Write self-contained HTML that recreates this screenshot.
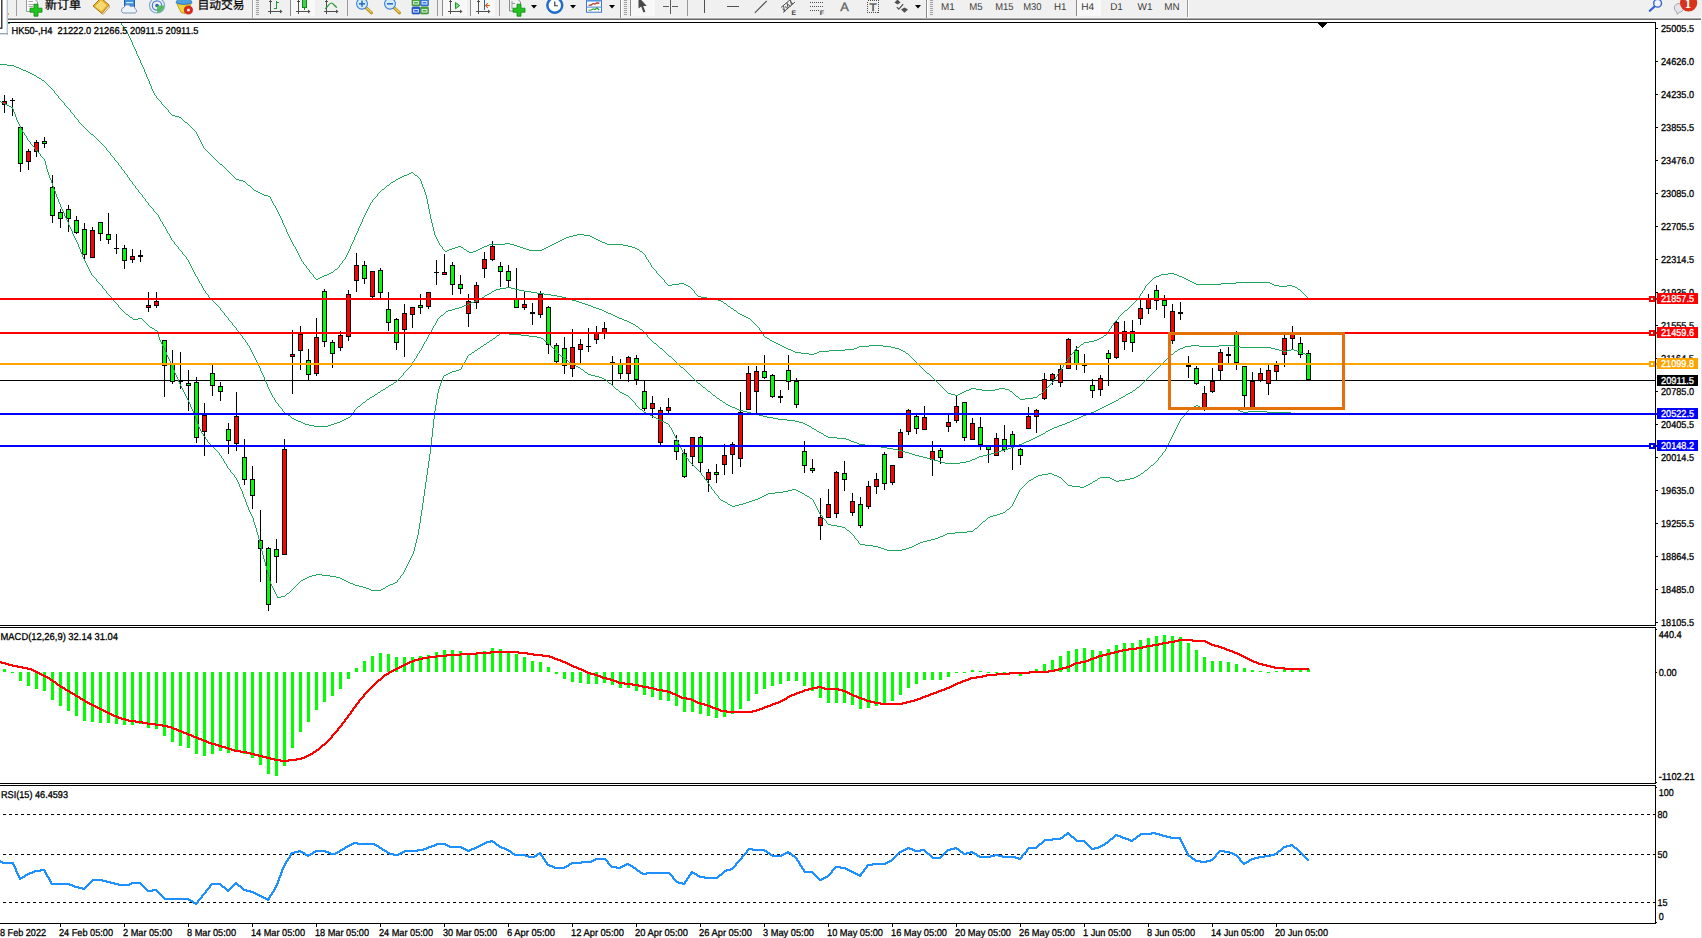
<!DOCTYPE html>
<html lang="zh"><head><meta charset="utf-8"><title>HK50-,H4</title>
<style>html,body{margin:0;padding:0;background:#fff;overflow:hidden}svg{display:block}</style>
</head><body>
<svg width="1702" height="938" viewBox="0 0 1702 938" font-family="Liberation Sans, sans-serif" font-size="10" text-rendering="geometricPrecision">
<rect x="0" y="0" width="1702" height="938" fill="#fff"/>
<g shape-rendering="crispEdges">
<rect x="0" y="380" width="1656" height="1" fill="#000"/>
<rect x="4" y="95" width="1" height="18" fill="#000"/>
<rect x="2" y="101" width="5" height="4" fill="#000"/>
<rect x="3" y="102" width="3" height="2" fill="#ff0000"/>
<rect x="12" y="98" width="1" height="18" fill="#000"/>
<rect x="10" y="100" width="5" height="1" fill="#000"/>
<rect x="20" y="127" width="1" height="45" fill="#000"/>
<rect x="18" y="127" width="5" height="37" fill="#000"/>
<rect x="19" y="128" width="3" height="35" fill="#00ff00"/>
<rect x="28" y="149" width="1" height="21" fill="#000"/>
<rect x="26" y="151" width="5" height="11" fill="#000"/>
<rect x="27" y="152" width="3" height="9" fill="#ff0000"/>
<rect x="36" y="140" width="1" height="17" fill="#000"/>
<rect x="34" y="142" width="5" height="10" fill="#000"/>
<rect x="35" y="143" width="3" height="8" fill="#ff0000"/>
<rect x="44" y="137" width="1" height="11" fill="#000"/>
<rect x="42" y="141" width="5" height="3" fill="#000"/>
<rect x="43" y="142" width="3" height="1" fill="#00ff00"/>
<rect x="52" y="175" width="1" height="48" fill="#000"/>
<rect x="50" y="187" width="5" height="29" fill="#000"/>
<rect x="51" y="188" width="3" height="27" fill="#00ff00"/>
<rect x="60" y="209" width="1" height="19" fill="#000"/>
<rect x="58" y="212" width="5" height="7" fill="#000"/>
<rect x="59" y="213" width="3" height="5" fill="#00ff00"/>
<rect x="68" y="205" width="1" height="27" fill="#000"/>
<rect x="66" y="209" width="5" height="10" fill="#000"/>
<rect x="67" y="210" width="3" height="8" fill="#00ff00"/>
<rect x="76" y="216" width="1" height="18" fill="#000"/>
<rect x="74" y="220" width="5" height="13" fill="#000"/>
<rect x="75" y="221" width="3" height="11" fill="#00ff00"/>
<rect x="84" y="223" width="1" height="36" fill="#000"/>
<rect x="82" y="229" width="5" height="26" fill="#000"/>
<rect x="83" y="230" width="3" height="24" fill="#00ff00"/>
<rect x="92" y="227" width="1" height="31" fill="#000"/>
<rect x="90" y="230" width="5" height="28" fill="#000"/>
<rect x="91" y="231" width="3" height="26" fill="#ff0000"/>
<rect x="100" y="222" width="1" height="19" fill="#000"/>
<rect x="98" y="222" width="5" height="12" fill="#000"/>
<rect x="99" y="223" width="3" height="10" fill="#00ff00"/>
<rect x="108" y="213" width="1" height="31" fill="#000"/>
<rect x="106" y="234" width="5" height="6" fill="#000"/>
<rect x="107" y="235" width="3" height="4" fill="#00ff00"/>
<rect x="116" y="234" width="1" height="20" fill="#000"/>
<rect x="114" y="248" width="5" height="1" fill="#000"/>
<rect x="124" y="245" width="1" height="24" fill="#000"/>
<rect x="122" y="248" width="5" height="13" fill="#000"/>
<rect x="123" y="249" width="3" height="11" fill="#00ff00"/>
<rect x="132" y="249" width="1" height="14" fill="#000"/>
<rect x="130" y="256" width="5" height="4" fill="#000"/>
<rect x="131" y="257" width="3" height="2" fill="#ff0000"/>
<rect x="140" y="250" width="1" height="12" fill="#000"/>
<rect x="138" y="255" width="5" height="2" fill="#000"/>
<rect x="148" y="292" width="1" height="20" fill="#000"/>
<rect x="146" y="305" width="5" height="3" fill="#000"/>
<rect x="147" y="306" width="3" height="1" fill="#ff0000"/>
<rect x="156" y="292" width="1" height="16" fill="#000"/>
<rect x="154" y="301" width="5" height="5" fill="#000"/>
<rect x="155" y="302" width="3" height="3" fill="#ff0000"/>
<rect x="164" y="340" width="1" height="57" fill="#000"/>
<rect x="162" y="340" width="5" height="26" fill="#000"/>
<rect x="163" y="341" width="3" height="24" fill="#00ff00"/>
<rect x="172" y="350" width="1" height="34" fill="#000"/>
<rect x="170" y="363" width="5" height="19" fill="#000"/>
<rect x="171" y="364" width="3" height="17" fill="#00ff00"/>
<rect x="180" y="352" width="1" height="37" fill="#000"/>
<rect x="178" y="381" width="5" height="1" fill="#000"/>
<rect x="188" y="370" width="1" height="41" fill="#000"/>
<rect x="186" y="383" width="5" height="3" fill="#000"/>
<rect x="187" y="384" width="3" height="1" fill="#00ff00"/>
<rect x="196" y="377" width="1" height="66" fill="#000"/>
<rect x="194" y="382" width="5" height="56" fill="#000"/>
<rect x="195" y="383" width="3" height="54" fill="#00ff00"/>
<rect x="204" y="403" width="1" height="53" fill="#000"/>
<rect x="202" y="415" width="5" height="17" fill="#000"/>
<rect x="203" y="416" width="3" height="15" fill="#ff0000"/>
<rect x="212" y="365" width="1" height="31" fill="#000"/>
<rect x="210" y="373" width="5" height="13" fill="#000"/>
<rect x="211" y="374" width="3" height="11" fill="#00ff00"/>
<rect x="220" y="382" width="1" height="19" fill="#000"/>
<rect x="218" y="386" width="5" height="6" fill="#000"/>
<rect x="219" y="387" width="3" height="4" fill="#00ff00"/>
<rect x="228" y="423" width="1" height="31" fill="#000"/>
<rect x="226" y="429" width="5" height="12" fill="#000"/>
<rect x="227" y="430" width="3" height="10" fill="#00ff00"/>
<rect x="236" y="392" width="1" height="59" fill="#000"/>
<rect x="234" y="416" width="5" height="28" fill="#000"/>
<rect x="235" y="417" width="3" height="26" fill="#ff0000"/>
<rect x="244" y="439" width="1" height="46" fill="#000"/>
<rect x="242" y="457" width="5" height="23" fill="#000"/>
<rect x="243" y="458" width="3" height="21" fill="#00ff00"/>
<rect x="252" y="466" width="1" height="43" fill="#000"/>
<rect x="250" y="479" width="5" height="17" fill="#000"/>
<rect x="251" y="480" width="3" height="15" fill="#00ff00"/>
<rect x="260" y="510" width="1" height="72" fill="#000"/>
<rect x="258" y="540" width="5" height="9" fill="#000"/>
<rect x="259" y="541" width="3" height="7" fill="#00ff00"/>
<rect x="268" y="547" width="1" height="64" fill="#000"/>
<rect x="266" y="548" width="5" height="57" fill="#000"/>
<rect x="267" y="549" width="3" height="55" fill="#00ff00"/>
<rect x="276" y="539" width="1" height="44" fill="#000"/>
<rect x="274" y="549" width="5" height="8" fill="#000"/>
<rect x="275" y="550" width="3" height="6" fill="#00ff00"/>
<rect x="284" y="439" width="1" height="116" fill="#000"/>
<rect x="282" y="449" width="5" height="106" fill="#000"/>
<rect x="283" y="450" width="3" height="104" fill="#ff0000"/>
<rect x="292" y="330" width="1" height="64" fill="#000"/>
<rect x="290" y="354" width="5" height="3" fill="#000"/>
<rect x="291" y="355" width="3" height="1" fill="#ff0000"/>
<rect x="300" y="326" width="1" height="44" fill="#000"/>
<rect x="298" y="334" width="5" height="17" fill="#000"/>
<rect x="299" y="335" width="3" height="15" fill="#ff0000"/>
<rect x="308" y="349" width="1" height="31" fill="#000"/>
<rect x="306" y="360" width="5" height="15" fill="#000"/>
<rect x="307" y="361" width="3" height="13" fill="#00ff00"/>
<rect x="316" y="318" width="1" height="58" fill="#000"/>
<rect x="314" y="337" width="5" height="37" fill="#000"/>
<rect x="315" y="338" width="3" height="35" fill="#ff0000"/>
<rect x="324" y="289" width="1" height="58" fill="#000"/>
<rect x="322" y="291" width="5" height="51" fill="#000"/>
<rect x="323" y="292" width="3" height="49" fill="#00ff00"/>
<rect x="332" y="340" width="1" height="28" fill="#000"/>
<rect x="330" y="342" width="5" height="12" fill="#000"/>
<rect x="331" y="343" width="3" height="10" fill="#00ff00"/>
<rect x="340" y="331" width="1" height="20" fill="#000"/>
<rect x="338" y="335" width="5" height="13" fill="#000"/>
<rect x="339" y="336" width="3" height="11" fill="#ff0000"/>
<rect x="348" y="290" width="1" height="51" fill="#000"/>
<rect x="346" y="294" width="5" height="43" fill="#000"/>
<rect x="347" y="295" width="3" height="41" fill="#ff0000"/>
<rect x="356" y="253" width="1" height="39" fill="#000"/>
<rect x="354" y="265" width="5" height="16" fill="#000"/>
<rect x="355" y="266" width="3" height="14" fill="#ff0000"/>
<rect x="364" y="261" width="1" height="23" fill="#000"/>
<rect x="362" y="265" width="5" height="14" fill="#000"/>
<rect x="363" y="266" width="3" height="12" fill="#00ff00"/>
<rect x="372" y="271" width="1" height="27" fill="#000"/>
<rect x="370" y="271" width="5" height="26" fill="#000"/>
<rect x="371" y="272" width="3" height="24" fill="#ff0000"/>
<rect x="380" y="268" width="1" height="30" fill="#000"/>
<rect x="378" y="270" width="5" height="23" fill="#000"/>
<rect x="379" y="271" width="3" height="21" fill="#00ff00"/>
<rect x="388" y="292" width="1" height="39" fill="#000"/>
<rect x="386" y="309" width="5" height="14" fill="#000"/>
<rect x="387" y="310" width="3" height="12" fill="#00ff00"/>
<rect x="396" y="318" width="1" height="32" fill="#000"/>
<rect x="394" y="319" width="5" height="24" fill="#000"/>
<rect x="395" y="320" width="3" height="22" fill="#00ff00"/>
<rect x="404" y="304" width="1" height="53" fill="#000"/>
<rect x="402" y="313" width="5" height="17" fill="#000"/>
<rect x="403" y="314" width="3" height="15" fill="#ff0000"/>
<rect x="412" y="307" width="1" height="21" fill="#000"/>
<rect x="410" y="307" width="5" height="8" fill="#000"/>
<rect x="411" y="308" width="3" height="6" fill="#ff0000"/>
<rect x="420" y="294" width="1" height="20" fill="#000"/>
<rect x="418" y="305" width="5" height="3" fill="#000"/>
<rect x="419" y="306" width="3" height="1" fill="#00ff00"/>
<rect x="428" y="292" width="1" height="17" fill="#000"/>
<rect x="426" y="292" width="5" height="15" fill="#000"/>
<rect x="427" y="293" width="3" height="13" fill="#ff0000"/>
<rect x="436" y="260" width="1" height="25" fill="#000"/>
<rect x="434" y="272" width="5" height="1" fill="#000"/>
<rect x="444" y="254" width="1" height="21" fill="#000"/>
<rect x="442" y="272" width="5" height="3" fill="#000"/>
<rect x="443" y="273" width="3" height="1" fill="#ff0000"/>
<rect x="452" y="262" width="1" height="33" fill="#000"/>
<rect x="450" y="265" width="5" height="20" fill="#000"/>
<rect x="451" y="266" width="3" height="18" fill="#00ff00"/>
<rect x="460" y="275" width="1" height="19" fill="#000"/>
<rect x="458" y="284" width="5" height="5" fill="#000"/>
<rect x="459" y="285" width="3" height="3" fill="#00ff00"/>
<rect x="468" y="294" width="1" height="33" fill="#000"/>
<rect x="466" y="301" width="5" height="13" fill="#000"/>
<rect x="467" y="302" width="3" height="11" fill="#ff0000"/>
<rect x="476" y="282" width="1" height="27" fill="#000"/>
<rect x="474" y="285" width="5" height="18" fill="#000"/>
<rect x="475" y="286" width="3" height="16" fill="#ff0000"/>
<rect x="484" y="252" width="1" height="26" fill="#000"/>
<rect x="482" y="259" width="5" height="10" fill="#000"/>
<rect x="483" y="260" width="3" height="8" fill="#ff0000"/>
<rect x="492" y="241" width="1" height="20" fill="#000"/>
<rect x="490" y="246" width="5" height="14" fill="#000"/>
<rect x="491" y="247" width="3" height="12" fill="#ff0000"/>
<rect x="500" y="262" width="1" height="25" fill="#000"/>
<rect x="498" y="266" width="5" height="6" fill="#000"/>
<rect x="499" y="267" width="3" height="4" fill="#00ff00"/>
<rect x="508" y="265" width="1" height="22" fill="#000"/>
<rect x="506" y="271" width="5" height="10" fill="#000"/>
<rect x="507" y="272" width="3" height="8" fill="#00ff00"/>
<rect x="516" y="268" width="1" height="40" fill="#000"/>
<rect x="514" y="299" width="5" height="9" fill="#000"/>
<rect x="515" y="300" width="3" height="7" fill="#00ff00"/>
<rect x="524" y="292" width="1" height="18" fill="#000"/>
<rect x="522" y="304" width="5" height="4" fill="#000"/>
<rect x="523" y="305" width="3" height="2" fill="#ff0000"/>
<rect x="532" y="303" width="1" height="22" fill="#000"/>
<rect x="530" y="312" width="5" height="2" fill="#000"/>
<rect x="540" y="291" width="1" height="27" fill="#000"/>
<rect x="538" y="294" width="5" height="21" fill="#000"/>
<rect x="539" y="295" width="3" height="19" fill="#ff0000"/>
<rect x="548" y="306" width="1" height="48" fill="#000"/>
<rect x="546" y="307" width="5" height="38" fill="#000"/>
<rect x="547" y="308" width="3" height="36" fill="#00ff00"/>
<rect x="556" y="343" width="1" height="20" fill="#000"/>
<rect x="554" y="345" width="5" height="17" fill="#000"/>
<rect x="555" y="346" width="3" height="15" fill="#00ff00"/>
<rect x="564" y="337" width="1" height="37" fill="#000"/>
<rect x="562" y="348" width="5" height="18" fill="#000"/>
<rect x="563" y="349" width="3" height="16" fill="#00ff00"/>
<rect x="572" y="329" width="1" height="48" fill="#000"/>
<rect x="570" y="347" width="5" height="22" fill="#000"/>
<rect x="571" y="348" width="3" height="20" fill="#ff0000"/>
<rect x="580" y="339" width="1" height="24" fill="#000"/>
<rect x="578" y="344" width="5" height="6" fill="#000"/>
<rect x="579" y="345" width="3" height="4" fill="#ff0000"/>
<rect x="588" y="328" width="1" height="24" fill="#000"/>
<rect x="586" y="346" width="5" height="1" fill="#000"/>
<rect x="596" y="326" width="1" height="18" fill="#000"/>
<rect x="594" y="333" width="5" height="7" fill="#000"/>
<rect x="595" y="334" width="3" height="5" fill="#ff0000"/>
<rect x="604" y="322" width="1" height="17" fill="#000"/>
<rect x="602" y="328" width="5" height="6" fill="#000"/>
<rect x="603" y="329" width="3" height="4" fill="#ff0000"/>
<rect x="612" y="356" width="1" height="30" fill="#000"/>
<rect x="610" y="362" width="5" height="1" fill="#000"/>
<rect x="620" y="359" width="1" height="20" fill="#000"/>
<rect x="618" y="364" width="5" height="10" fill="#000"/>
<rect x="619" y="365" width="3" height="8" fill="#00ff00"/>
<rect x="628" y="356" width="1" height="26" fill="#000"/>
<rect x="626" y="357" width="5" height="17" fill="#000"/>
<rect x="627" y="358" width="3" height="15" fill="#ff0000"/>
<rect x="636" y="355" width="1" height="30" fill="#000"/>
<rect x="634" y="358" width="5" height="22" fill="#000"/>
<rect x="635" y="359" width="3" height="20" fill="#00ff00"/>
<rect x="644" y="381" width="1" height="30" fill="#000"/>
<rect x="642" y="391" width="5" height="18" fill="#000"/>
<rect x="643" y="392" width="3" height="16" fill="#00ff00"/>
<rect x="652" y="396" width="1" height="22" fill="#000"/>
<rect x="650" y="403" width="5" height="6" fill="#000"/>
<rect x="651" y="404" width="3" height="4" fill="#ff0000"/>
<rect x="660" y="407" width="1" height="38" fill="#000"/>
<rect x="658" y="410" width="5" height="33" fill="#000"/>
<rect x="659" y="411" width="3" height="31" fill="#ff0000"/>
<rect x="668" y="398" width="1" height="15" fill="#000"/>
<rect x="666" y="407" width="5" height="4" fill="#000"/>
<rect x="667" y="408" width="3" height="2" fill="#ff0000"/>
<rect x="676" y="435" width="1" height="25" fill="#000"/>
<rect x="674" y="440" width="5" height="12" fill="#000"/>
<rect x="675" y="441" width="3" height="10" fill="#00ff00"/>
<rect x="684" y="449" width="1" height="29" fill="#000"/>
<rect x="682" y="453" width="5" height="24" fill="#000"/>
<rect x="683" y="454" width="3" height="22" fill="#00ff00"/>
<rect x="692" y="437" width="1" height="29" fill="#000"/>
<rect x="690" y="437" width="5" height="20" fill="#000"/>
<rect x="691" y="438" width="3" height="18" fill="#ff0000"/>
<rect x="700" y="436" width="1" height="36" fill="#000"/>
<rect x="698" y="437" width="5" height="26" fill="#000"/>
<rect x="699" y="438" width="3" height="24" fill="#00ff00"/>
<rect x="708" y="469" width="1" height="23" fill="#000"/>
<rect x="706" y="472" width="5" height="8" fill="#000"/>
<rect x="707" y="473" width="3" height="6" fill="#ff0000"/>
<rect x="716" y="464" width="1" height="19" fill="#000"/>
<rect x="714" y="472" width="5" height="3" fill="#000"/>
<rect x="715" y="473" width="3" height="1" fill="#00ff00"/>
<rect x="724" y="444" width="1" height="31" fill="#000"/>
<rect x="722" y="455" width="5" height="10" fill="#000"/>
<rect x="723" y="456" width="3" height="8" fill="#ff0000"/>
<rect x="732" y="442" width="1" height="32" fill="#000"/>
<rect x="730" y="444" width="5" height="11" fill="#000"/>
<rect x="731" y="445" width="3" height="9" fill="#ff0000"/>
<rect x="740" y="392" width="1" height="75" fill="#000"/>
<rect x="738" y="412" width="5" height="47" fill="#000"/>
<rect x="739" y="413" width="3" height="45" fill="#ff0000"/>
<rect x="748" y="366" width="1" height="44" fill="#000"/>
<rect x="746" y="373" width="5" height="37" fill="#000"/>
<rect x="747" y="374" width="3" height="35" fill="#ff0000"/>
<rect x="756" y="366" width="1" height="47" fill="#000"/>
<rect x="754" y="371" width="5" height="21" fill="#000"/>
<rect x="755" y="372" width="3" height="19" fill="#ff0000"/>
<rect x="764" y="355" width="1" height="24" fill="#000"/>
<rect x="762" y="371" width="5" height="7" fill="#000"/>
<rect x="763" y="372" width="3" height="5" fill="#00ff00"/>
<rect x="772" y="374" width="1" height="24" fill="#000"/>
<rect x="770" y="375" width="5" height="22" fill="#000"/>
<rect x="771" y="376" width="3" height="20" fill="#00ff00"/>
<rect x="780" y="390" width="1" height="13" fill="#000"/>
<rect x="778" y="396" width="5" height="2" fill="#000"/>
<rect x="788" y="355" width="1" height="35" fill="#000"/>
<rect x="786" y="370" width="5" height="12" fill="#000"/>
<rect x="787" y="371" width="3" height="10" fill="#00ff00"/>
<rect x="796" y="378" width="1" height="30" fill="#000"/>
<rect x="794" y="381" width="5" height="24" fill="#000"/>
<rect x="795" y="382" width="3" height="22" fill="#00ff00"/>
<rect x="804" y="441" width="1" height="32" fill="#000"/>
<rect x="802" y="451" width="5" height="15" fill="#000"/>
<rect x="803" y="452" width="3" height="13" fill="#00ff00"/>
<rect x="812" y="459" width="1" height="14" fill="#000"/>
<rect x="810" y="468" width="5" height="3" fill="#000"/>
<rect x="811" y="469" width="3" height="1" fill="#00ff00"/>
<rect x="820" y="498" width="1" height="42" fill="#000"/>
<rect x="818" y="517" width="5" height="9" fill="#000"/>
<rect x="819" y="518" width="3" height="7" fill="#ff0000"/>
<rect x="828" y="489" width="1" height="29" fill="#000"/>
<rect x="826" y="504" width="5" height="14" fill="#000"/>
<rect x="827" y="505" width="3" height="12" fill="#ff0000"/>
<rect x="836" y="471" width="1" height="47" fill="#000"/>
<rect x="834" y="472" width="5" height="42" fill="#000"/>
<rect x="835" y="473" width="3" height="40" fill="#ff0000"/>
<rect x="844" y="461" width="1" height="30" fill="#000"/>
<rect x="842" y="473" width="5" height="7" fill="#000"/>
<rect x="843" y="474" width="3" height="5" fill="#00ff00"/>
<rect x="852" y="493" width="1" height="23" fill="#000"/>
<rect x="850" y="501" width="5" height="12" fill="#000"/>
<rect x="851" y="502" width="3" height="10" fill="#ff0000"/>
<rect x="860" y="497" width="1" height="31" fill="#000"/>
<rect x="858" y="504" width="5" height="22" fill="#000"/>
<rect x="859" y="505" width="3" height="20" fill="#00ff00"/>
<rect x="868" y="481" width="1" height="28" fill="#000"/>
<rect x="866" y="486" width="5" height="21" fill="#000"/>
<rect x="867" y="487" width="3" height="19" fill="#ff0000"/>
<rect x="876" y="473" width="1" height="21" fill="#000"/>
<rect x="874" y="479" width="5" height="8" fill="#000"/>
<rect x="875" y="480" width="3" height="6" fill="#ff0000"/>
<rect x="884" y="452" width="1" height="38" fill="#000"/>
<rect x="882" y="454" width="5" height="30" fill="#000"/>
<rect x="883" y="455" width="3" height="28" fill="#00ff00"/>
<rect x="892" y="465" width="1" height="20" fill="#000"/>
<rect x="890" y="465" width="5" height="18" fill="#000"/>
<rect x="891" y="466" width="3" height="16" fill="#ff0000"/>
<rect x="900" y="429" width="1" height="29" fill="#000"/>
<rect x="898" y="432" width="5" height="26" fill="#000"/>
<rect x="899" y="433" width="3" height="24" fill="#ff0000"/>
<rect x="908" y="409" width="1" height="26" fill="#000"/>
<rect x="906" y="410" width="5" height="22" fill="#000"/>
<rect x="907" y="411" width="3" height="20" fill="#ff0000"/>
<rect x="916" y="415" width="1" height="19" fill="#000"/>
<rect x="914" y="416" width="5" height="13" fill="#000"/>
<rect x="915" y="417" width="3" height="11" fill="#00ff00"/>
<rect x="924" y="406" width="1" height="24" fill="#000"/>
<rect x="922" y="417" width="5" height="13" fill="#000"/>
<rect x="923" y="418" width="3" height="11" fill="#ff0000"/>
<rect x="932" y="441" width="1" height="35" fill="#000"/>
<rect x="930" y="451" width="5" height="9" fill="#000"/>
<rect x="931" y="452" width="3" height="7" fill="#ff0000"/>
<rect x="940" y="448" width="1" height="16" fill="#000"/>
<rect x="938" y="450" width="5" height="8" fill="#000"/>
<rect x="939" y="451" width="3" height="6" fill="#00ff00"/>
<rect x="948" y="415" width="1" height="17" fill="#000"/>
<rect x="946" y="422" width="5" height="5" fill="#000"/>
<rect x="947" y="423" width="3" height="3" fill="#ff0000"/>
<rect x="956" y="396" width="1" height="27" fill="#000"/>
<rect x="954" y="406" width="5" height="15" fill="#000"/>
<rect x="955" y="407" width="3" height="13" fill="#ff0000"/>
<rect x="964" y="402" width="1" height="39" fill="#000"/>
<rect x="962" y="402" width="5" height="36" fill="#000"/>
<rect x="963" y="403" width="3" height="34" fill="#00ff00"/>
<rect x="972" y="418" width="1" height="22" fill="#000"/>
<rect x="970" y="423" width="5" height="17" fill="#000"/>
<rect x="971" y="424" width="3" height="15" fill="#ff0000"/>
<rect x="980" y="417" width="1" height="33" fill="#000"/>
<rect x="978" y="427" width="5" height="18" fill="#000"/>
<rect x="979" y="428" width="3" height="16" fill="#00ff00"/>
<rect x="988" y="446" width="1" height="17" fill="#000"/>
<rect x="986" y="446" width="5" height="4" fill="#000"/>
<rect x="987" y="447" width="3" height="2" fill="#00ff00"/>
<rect x="996" y="433" width="1" height="23" fill="#000"/>
<rect x="994" y="438" width="5" height="18" fill="#000"/>
<rect x="995" y="439" width="3" height="16" fill="#ff0000"/>
<rect x="1004" y="425" width="1" height="27" fill="#000"/>
<rect x="1002" y="439" width="5" height="11" fill="#000"/>
<rect x="1003" y="440" width="3" height="9" fill="#00ff00"/>
<rect x="1012" y="431" width="1" height="39" fill="#000"/>
<rect x="1010" y="434" width="5" height="12" fill="#000"/>
<rect x="1011" y="435" width="3" height="10" fill="#00ff00"/>
<rect x="1020" y="448" width="1" height="17" fill="#000"/>
<rect x="1018" y="449" width="5" height="7" fill="#000"/>
<rect x="1019" y="450" width="3" height="5" fill="#00ff00"/>
<rect x="1028" y="407" width="1" height="22" fill="#000"/>
<rect x="1026" y="416" width="5" height="13" fill="#000"/>
<rect x="1027" y="417" width="3" height="11" fill="#ff0000"/>
<rect x="1036" y="409" width="1" height="24" fill="#000"/>
<rect x="1034" y="410" width="5" height="7" fill="#000"/>
<rect x="1035" y="411" width="3" height="5" fill="#ff0000"/>
<rect x="1044" y="373" width="1" height="27" fill="#000"/>
<rect x="1042" y="379" width="5" height="20" fill="#000"/>
<rect x="1043" y="380" width="3" height="18" fill="#ff0000"/>
<rect x="1052" y="373" width="1" height="12" fill="#000"/>
<rect x="1050" y="374" width="5" height="6" fill="#000"/>
<rect x="1051" y="375" width="3" height="4" fill="#ff0000"/>
<rect x="1060" y="365" width="1" height="22" fill="#000"/>
<rect x="1058" y="369" width="5" height="14" fill="#000"/>
<rect x="1059" y="370" width="3" height="12" fill="#ff0000"/>
<rect x="1068" y="338" width="1" height="31" fill="#000"/>
<rect x="1066" y="339" width="5" height="30" fill="#000"/>
<rect x="1067" y="340" width="3" height="28" fill="#ff0000"/>
<rect x="1076" y="346" width="1" height="24" fill="#000"/>
<rect x="1074" y="350" width="5" height="14" fill="#000"/>
<rect x="1075" y="351" width="3" height="12" fill="#00ff00"/>
<rect x="1084" y="354" width="1" height="19" fill="#000"/>
<rect x="1082" y="365" width="5" height="1" fill="#000"/>
<rect x="1092" y="379" width="1" height="19" fill="#000"/>
<rect x="1090" y="385" width="5" height="6" fill="#000"/>
<rect x="1091" y="386" width="3" height="4" fill="#00ff00"/>
<rect x="1100" y="375" width="1" height="21" fill="#000"/>
<rect x="1098" y="378" width="5" height="12" fill="#000"/>
<rect x="1099" y="379" width="3" height="10" fill="#ff0000"/>
<rect x="1108" y="350" width="1" height="36" fill="#000"/>
<rect x="1106" y="353" width="5" height="6" fill="#000"/>
<rect x="1107" y="354" width="3" height="4" fill="#00ff00"/>
<rect x="1116" y="321" width="1" height="38" fill="#000"/>
<rect x="1114" y="322" width="5" height="36" fill="#000"/>
<rect x="1115" y="323" width="3" height="34" fill="#ff0000"/>
<rect x="1124" y="321" width="1" height="29" fill="#000"/>
<rect x="1122" y="331" width="5" height="11" fill="#000"/>
<rect x="1123" y="332" width="3" height="9" fill="#ff0000"/>
<rect x="1132" y="320" width="1" height="32" fill="#000"/>
<rect x="1130" y="331" width="5" height="12" fill="#000"/>
<rect x="1131" y="332" width="3" height="10" fill="#00ff00"/>
<rect x="1140" y="298" width="1" height="27" fill="#000"/>
<rect x="1138" y="308" width="5" height="11" fill="#000"/>
<rect x="1139" y="309" width="3" height="9" fill="#ff0000"/>
<rect x="1148" y="294" width="1" height="20" fill="#000"/>
<rect x="1146" y="299" width="5" height="10" fill="#000"/>
<rect x="1147" y="300" width="3" height="8" fill="#ff0000"/>
<rect x="1156" y="285" width="1" height="25" fill="#000"/>
<rect x="1154" y="290" width="5" height="11" fill="#000"/>
<rect x="1155" y="291" width="3" height="9" fill="#00ff00"/>
<rect x="1164" y="295" width="1" height="23" fill="#000"/>
<rect x="1162" y="300" width="5" height="6" fill="#000"/>
<rect x="1163" y="301" width="3" height="4" fill="#00ff00"/>
<rect x="1172" y="304" width="1" height="40" fill="#000"/>
<rect x="1170" y="311" width="5" height="30" fill="#000"/>
<rect x="1171" y="312" width="3" height="28" fill="#ff0000"/>
<rect x="1180" y="302" width="1" height="18" fill="#000"/>
<rect x="1178" y="312" width="5" height="2" fill="#000"/>
<rect x="1188" y="356" width="1" height="22" fill="#000"/>
<rect x="1186" y="365" width="5" height="2" fill="#000"/>
<rect x="1196" y="366" width="1" height="19" fill="#000"/>
<rect x="1194" y="368" width="5" height="16" fill="#000"/>
<rect x="1195" y="369" width="3" height="14" fill="#00ff00"/>
<rect x="1204" y="386" width="1" height="25" fill="#000"/>
<rect x="1202" y="393" width="5" height="15" fill="#000"/>
<rect x="1203" y="394" width="3" height="13" fill="#ff0000"/>
<rect x="1212" y="368" width="1" height="25" fill="#000"/>
<rect x="1210" y="381" width="5" height="11" fill="#000"/>
<rect x="1211" y="382" width="3" height="9" fill="#ff0000"/>
<rect x="1220" y="349" width="1" height="31" fill="#000"/>
<rect x="1218" y="352" width="5" height="19" fill="#000"/>
<rect x="1219" y="353" width="3" height="17" fill="#ff0000"/>
<rect x="1228" y="347" width="1" height="16" fill="#000"/>
<rect x="1226" y="354" width="5" height="2" fill="#000"/>
<rect x="1236" y="331" width="1" height="39" fill="#000"/>
<rect x="1234" y="333" width="5" height="30" fill="#000"/>
<rect x="1235" y="334" width="3" height="28" fill="#00ff00"/>
<rect x="1244" y="366" width="1" height="41" fill="#000"/>
<rect x="1242" y="366" width="5" height="30" fill="#000"/>
<rect x="1243" y="367" width="3" height="28" fill="#00ff00"/>
<rect x="1252" y="372" width="1" height="36" fill="#000"/>
<rect x="1250" y="381" width="5" height="27" fill="#000"/>
<rect x="1251" y="382" width="3" height="25" fill="#ff0000"/>
<rect x="1260" y="368" width="1" height="14" fill="#000"/>
<rect x="1258" y="373" width="5" height="8" fill="#000"/>
<rect x="1259" y="374" width="3" height="6" fill="#ff0000"/>
<rect x="1268" y="365" width="1" height="30" fill="#000"/>
<rect x="1266" y="370" width="5" height="14" fill="#000"/>
<rect x="1267" y="371" width="3" height="12" fill="#ff0000"/>
<rect x="1276" y="361" width="1" height="19" fill="#000"/>
<rect x="1274" y="365" width="5" height="7" fill="#000"/>
<rect x="1275" y="366" width="3" height="5" fill="#ff0000"/>
<rect x="1284" y="335" width="1" height="32" fill="#000"/>
<rect x="1282" y="338" width="5" height="17" fill="#000"/>
<rect x="1283" y="339" width="3" height="15" fill="#ff0000"/>
<rect x="1292" y="326" width="1" height="23" fill="#000"/>
<rect x="1290" y="333" width="5" height="6" fill="#000"/>
<rect x="1291" y="334" width="3" height="4" fill="#ff0000"/>
<rect x="1300" y="337" width="1" height="21" fill="#000"/>
<rect x="1298" y="343" width="5" height="12" fill="#000"/>
<rect x="1299" y="344" width="3" height="10" fill="#00ff00"/>
<rect x="1308" y="350" width="1" height="30" fill="#000"/>
<rect x="1306" y="353" width="5" height="27" fill="#000"/>
<rect x="1307" y="354" width="3" height="25" fill="#00ff00"/>
</g>
<path d="M0 64h7v1h-7zM0 101h1v1h-1zM1 102h2v1h-2zM3 103h2v1h-2zM5 104h2v1h-2zM7 65h7v1h-7zM7 105h2v1h-2zM9 106h2v1h-2zM11 107h2v1h-2zM12 108h1v1h-1zM13 109h1v3h-1zM14 66h2v1h-2zM14 112h1v2h-1zM15 114h1v3h-1zM16 67h3v1h-3zM16 117h1v3h-1zM17 120h1v2h-1zM18 122h1v2h-1zM19 68h2v1h-2zM19 124h1v2h-1zM20 126h1v2h-1zM21 69h2v1h-2zM21 128h1v2h-1zM22 130h1v2h-1zM23 70h3v1h-3zM23 132h1v1h-1zM24 133h1v2h-1zM25 135h1v1h-1zM26 71h2v1h-2zM26 136h1v2h-1zM27 138h1v2h-1zM28 72h2v1h-2zM28 140h1v1h-1zM29 141h1v1h-1zM30 73h2v1h-2zM30 142h1v2h-1zM31 144h1v1h-1zM32 74h2v1h-2zM32 145h1v1h-1zM33 146h1v1h-1zM34 75h2v1h-2zM34 147h1v2h-1zM35 149h1v1h-1zM36 76h1v1h-1zM36 150h1v1h-1zM37 77h2v1h-2zM37 151h1v1h-1zM38 152h1v1h-1zM39 78h2v1h-2zM39 153h1v1h-1zM40 154h1v2h-1zM41 79h1v1h-1zM41 156h1v1h-1zM42 80h2v1h-2zM42 157h1v1h-1zM43 158h1v1h-1zM44 81h1v1h-1zM44 159h1v2h-1zM45 82h1v1h-1zM45 161h1v4h-1zM46 83h1v1h-1zM46 165h1v4h-1zM47 84h1v1h-1zM47 169h1v3h-1zM48 85h1v1h-1zM48 172h1v3h-1zM49 86h1v1h-1zM49 175h1v3h-1zM50 87h1v1h-1zM50 178h1v2h-1zM51 88h1v1h-1zM51 180h1v3h-1zM52 89h1v1h-1zM52 183h1v3h-1zM53 90h1v1h-1zM53 186h1v3h-1zM54 91h1v2h-1zM54 189h1v2h-1zM55 93h1v1h-1zM55 191h1v3h-1zM56 94h1v1h-1zM56 194h1v3h-1zM57 95h1v1h-1zM57 197h1v2h-1zM58 96h1v2h-1zM58 199h1v3h-1zM59 98h1v1h-1zM59 202h1v2h-1zM60 99h1v1h-1zM60 204h1v3h-1zM61 100h1v1h-1zM61 207h1v2h-1zM62 101h1v1h-1zM62 209h1v2h-1zM63 102h1v1h-1zM63 211h1v2h-1zM64 103h1v2h-1zM64 213h1v3h-1zM65 105h1v1h-1zM65 216h1v2h-1zM66 106h1v1h-1zM66 218h1v2h-1zM67 107h1v1h-1zM67 220h1v2h-1zM68 108h1v1h-1zM68 222h1v3h-1zM69 109h1v1h-1zM69 225h1v2h-1zM70 110h1v2h-1zM70 227h1v2h-1zM71 112h1v1h-1zM71 229h1v2h-1zM72 113h1v1h-1zM72 231h1v3h-1zM73 114h1v1h-1zM73 234h1v2h-1zM74 115h1v2h-1zM74 236h1v2h-1zM75 117h1v1h-1zM75 238h1v2h-1zM76 118h1v1h-1zM76 240h1v2h-1zM77 119h1v1h-1zM77 242h1v2h-1zM78 120h1v2h-1zM78 244h1v3h-1zM79 122h1v1h-1zM79 247h1v2h-1zM80 123h1v1h-1zM80 249h1v3h-1zM81 124h1v1h-1zM81 252h1v2h-1zM82 125h1v1h-1zM82 254h1v3h-1zM83 126h1v1h-1zM83 257h1v2h-1zM84 127h1v1h-1zM84 259h1v2h-1zM85 128h1v1h-1zM85 261h1v2h-1zM86 129h1v1h-1zM86 263h1v2h-1zM87 130h1v1h-1zM87 265h1v2h-1zM88 131h1v1h-1zM88 267h1v2h-1zM89 132h1v1h-1zM89 269h1v2h-1zM90 133h1v1h-1zM90 271h1v2h-1zM91 134h2v1h-2zM91 273h1v2h-1zM92 275h1v1h-1zM93 135h1v1h-1zM93 276h1v1h-1zM94 136h1v1h-1zM94 277h1v1h-1zM95 137h1v1h-1zM95 278h1v1h-1zM96 138h1v1h-1zM96 279h1v2h-1zM97 139h1v1h-1zM97 281h1v1h-1zM98 140h1v1h-1zM98 282h1v1h-1zM99 141h1v1h-1zM99 283h1v1h-1zM100 142h1v1h-1zM100 284h1v1h-1zM101 143h1v1h-1zM101 285h1v1h-1zM102 144h1v1h-1zM102 286h1v2h-1zM103 145h1v1h-1zM103 288h1v1h-1zM104 146h1v1h-1zM104 289h1v1h-1zM105 147h1v1h-1zM105 290h1v1h-1zM106 148h1v2h-1zM106 291h1v2h-1zM107 150h1v1h-1zM107 293h1v1h-1zM108 151h1v1h-1zM108 294h1v1h-1zM109 152h1v1h-1zM109 295h1v1h-1zM110 153h1v2h-1zM110 296h1v1h-1zM111 155h1v1h-1zM111 297h1v1h-1zM112 156h1v1h-1zM112 298h1v2h-1zM113 157h1v1h-1zM113 300h1v1h-1zM114 158h1v2h-1zM114 301h1v1h-1zM115 160h1v1h-1zM115 302h1v1h-1zM116 161h1v1h-1zM116 303h1v1h-1zM117 162h1v1h-1zM117 304h1v1h-1zM118 163h1v2h-1zM118 305h1v2h-1zM119 165h1v1h-1zM119 307h1v1h-1zM120 166h1v1h-1zM120 308h1v1h-1zM121 23h1v2h-1zM121 167h1v2h-1zM121 309h1v1h-1zM122 25h1v1h-1zM122 169h1v1h-1zM122 310h1v1h-1zM123 26h1v2h-1zM123 170h1v1h-1zM123 311h1v1h-1zM124 28h1v1h-1zM124 171h1v2h-1zM124 312h1v1h-1zM125 29h1v2h-1zM125 173h1v1h-1zM125 313h1v1h-1zM126 31h1v1h-1zM126 174h1v1h-1zM126 314h2v1h-2zM127 32h1v2h-1zM127 175h1v2h-1zM128 34h1v2h-1zM128 177h1v1h-1zM128 315h1v1h-1zM129 36h1v2h-1zM129 178h1v2h-1zM129 316h1v1h-1zM130 38h1v2h-1zM130 180h1v1h-1zM130 317h2v1h-2zM131 40h1v2h-1zM131 181h1v1h-1zM132 42h1v3h-1zM132 182h1v2h-1zM132 318h1v1h-1zM133 45h1v2h-1zM133 184h1v1h-1zM133 319h5v1h-5zM134 47h1v2h-1zM134 185h1v1h-1zM135 49h1v2h-1zM135 186h1v2h-1zM136 51h1v3h-1zM136 188h1v1h-1zM137 54h1v2h-1zM137 189h1v1h-1zM138 56h1v2h-1zM138 190h1v2h-1zM138 318h4v1h-4zM139 58h1v2h-1zM139 192h1v1h-1zM140 60h1v3h-1zM140 193h1v1h-1zM141 63h1v2h-1zM141 194h1v1h-1zM142 65h1v2h-1zM142 195h1v2h-1zM142 319h1v1h-1zM143 67h1v2h-1zM143 197h1v1h-1zM143 320h1v1h-1zM144 69h1v3h-1zM144 198h1v1h-1zM144 321h1v1h-1zM145 72h1v2h-1zM145 199h1v2h-1zM145 322h1v1h-1zM146 74h1v3h-1zM146 201h1v1h-1zM146 323h1v1h-1zM147 77h1v2h-1zM147 202h1v1h-1zM147 324h1v1h-1zM148 79h1v2h-1zM148 203h1v2h-1zM148 325h1v1h-1zM149 81h1v3h-1zM149 205h1v1h-1zM149 326h1v1h-1zM150 84h1v2h-1zM150 206h1v1h-1zM150 327h2v1h-2zM151 86h1v3h-1zM151 207h1v1h-1zM152 89h1v2h-1zM152 208h1v1h-1zM152 328h2v1h-2zM153 91h1v2h-1zM153 209h1v2h-1zM154 93h1v2h-1zM154 211h1v1h-1zM154 329h1v1h-1zM155 95h1v1h-1zM155 212h1v1h-1zM155 330h2v1h-2zM156 96h1v2h-1zM156 213h1v1h-1zM157 98h1v1h-1zM157 214h1v1h-1zM157 331h1v2h-1zM158 99h1v1h-1zM158 215h1v2h-1zM158 333h1v4h-1zM159 100h1v1h-1zM159 217h1v2h-1zM159 337h1v3h-1zM160 101h1v1h-1zM160 219h1v2h-1zM160 340h1v2h-1zM161 102h1v2h-1zM161 221h1v1h-1zM161 342h1v2h-1zM162 104h1v1h-1zM162 222h1v2h-1zM162 344h1v2h-1zM163 105h1v1h-1zM163 224h1v2h-1zM163 346h1v2h-1zM164 106h1v1h-1zM164 226h1v1h-1zM164 348h1v2h-1zM165 107h1v1h-1zM165 227h1v2h-1zM165 350h1v2h-1zM166 108h1v1h-1zM166 229h1v2h-1zM166 352h1v3h-1zM167 109h1v1h-1zM167 231h1v2h-1zM167 355h1v2h-1zM168 110h1v2h-1zM168 233h1v1h-1zM168 357h1v2h-1zM169 112h1v1h-1zM169 234h1v2h-1zM169 359h1v2h-1zM170 113h1v1h-1zM170 236h1v2h-1zM170 361h1v3h-1zM171 114h1v1h-1zM171 238h1v2h-1zM171 364h1v2h-1zM172 115h3v1h-3zM172 240h1v1h-1zM172 366h1v2h-1zM173 241h1v1h-1zM173 368h1v2h-1zM174 242h1v2h-1zM174 370h1v3h-1zM175 116h4v1h-4zM175 244h1v1h-1zM175 373h1v2h-1zM176 245h1v1h-1zM176 375h1v2h-1zM177 246h1v1h-1zM177 377h1v2h-1zM178 247h1v2h-1zM178 379h1v3h-1zM179 117h2v1h-2zM179 249h1v1h-1zM179 382h1v2h-1zM180 250h1v1h-1zM180 384h1v2h-1zM181 118h1v1h-1zM181 251h1v1h-1zM181 386h1v2h-1zM182 119h1v1h-1zM182 252h1v2h-1zM182 388h1v2h-1zM183 120h1v1h-1zM183 254h1v1h-1zM183 390h1v2h-1zM184 121h1v1h-1zM184 255h1v1h-1zM184 392h1v2h-1zM185 122h2v1h-2zM185 256h1v1h-1zM185 394h1v2h-1zM186 257h1v2h-1zM186 396h1v2h-1zM187 123h1v1h-1zM187 259h1v1h-1zM187 398h1v2h-1zM188 124h1v1h-1zM188 260h1v2h-1zM188 400h1v2h-1zM189 125h1v1h-1zM189 262h1v2h-1zM189 402h1v2h-1zM190 126h1v1h-1zM190 264h1v2h-1zM190 404h1v3h-1zM191 127h1v1h-1zM191 266h1v2h-1zM191 407h1v2h-1zM192 128h1v1h-1zM192 268h1v2h-1zM192 409h1v2h-1zM193 129h1v1h-1zM193 270h1v2h-1zM193 411h1v2h-1zM194 130h1v1h-1zM194 272h1v2h-1zM194 413h1v3h-1zM195 131h1v1h-1zM195 274h1v2h-1zM195 416h1v3h-1zM196 132h1v2h-1zM196 276h1v1h-1zM196 419h1v2h-1zM197 134h1v2h-1zM197 277h1v2h-1zM197 421h1v3h-1zM198 136h1v2h-1zM198 279h1v2h-1zM198 424h1v3h-1zM199 138h1v2h-1zM199 281h1v2h-1zM199 427h1v2h-1zM200 140h1v2h-1zM200 283h1v1h-1zM200 429h1v2h-1zM201 142h1v2h-1zM201 284h1v2h-1zM201 431h1v2h-1zM202 144h1v2h-1zM202 286h1v2h-1zM202 433h1v1h-1zM203 146h1v2h-1zM203 288h1v2h-1zM203 434h1v2h-1zM204 148h1v1h-1zM204 290h1v1h-1zM204 436h1v1h-1zM205 149h1v1h-1zM205 291h1v2h-1zM205 437h1v2h-1zM206 150h1v1h-1zM206 293h1v1h-1zM206 439h1v1h-1zM207 151h1v1h-1zM207 294h1v1h-1zM207 440h1v2h-1zM208 152h1v1h-1zM208 295h1v2h-1zM208 442h1v1h-1zM209 153h1v1h-1zM209 297h1v1h-1zM209 443h1v1h-1zM210 154h1v1h-1zM210 298h1v1h-1zM210 444h1v1h-1zM211 155h1v1h-1zM211 299h1v1h-1zM211 445h1v1h-1zM212 156h1v1h-1zM212 300h1v1h-1zM212 446h1v1h-1zM213 157h1v1h-1zM213 301h1v1h-1zM213 447h1v1h-1zM214 158h1v1h-1zM214 302h1v1h-1zM214 448h1v1h-1zM215 159h1v1h-1zM215 303h1v1h-1zM215 449h1v1h-1zM216 160h1v1h-1zM216 304h1v1h-1zM216 450h1v1h-1zM217 161h1v1h-1zM217 305h1v1h-1zM217 451h1v1h-1zM218 162h1v1h-1zM218 306h1v1h-1zM218 452h1v1h-1zM219 163h1v1h-1zM219 307h1v1h-1zM219 453h1v2h-1zM220 164h2v1h-2zM220 308h1v2h-1zM220 455h1v1h-1zM221 310h1v1h-1zM221 456h1v2h-1zM222 165h1v1h-1zM222 311h1v1h-1zM222 458h1v1h-1zM223 166h1v1h-1zM223 312h1v1h-1zM223 459h1v2h-1zM224 167h1v1h-1zM224 313h1v2h-1zM224 461h1v2h-1zM225 168h1v1h-1zM225 315h1v1h-1zM225 463h1v1h-1zM226 169h1v1h-1zM226 316h1v1h-1zM226 464h1v2h-1zM227 170h1v1h-1zM227 317h1v1h-1zM227 466h1v2h-1zM228 171h1v1h-1zM228 318h1v2h-1zM228 468h1v1h-1zM229 172h1v1h-1zM229 320h1v1h-1zM229 469h1v1h-1zM230 173h1v1h-1zM230 321h1v1h-1zM230 470h1v2h-1zM231 174h1v1h-1zM231 322h1v1h-1zM231 472h1v1h-1zM232 175h1v1h-1zM232 323h1v2h-1zM232 473h1v1h-1zM233 176h1v1h-1zM233 325h1v1h-1zM233 474h1v1h-1zM234 177h1v1h-1zM234 326h1v1h-1zM234 475h1v2h-1zM235 178h1v1h-1zM235 327h1v1h-1zM235 477h1v1h-1zM236 179h3v1h-3zM236 328h1v2h-1zM236 478h1v2h-1zM237 330h1v1h-1zM237 480h1v2h-1zM238 331h1v1h-1zM238 482h1v2h-1zM239 180h4v1h-4zM239 332h1v1h-1zM239 484h1v3h-1zM240 333h1v2h-1zM240 487h1v2h-1zM241 335h1v1h-1zM241 489h1v2h-1zM242 336h1v2h-1zM242 491h1v3h-1zM243 181h2v1h-2zM243 338h1v1h-1zM243 494h1v3h-1zM244 339h1v1h-1zM244 497h1v2h-1zM245 182h1v1h-1zM245 340h1v2h-1zM245 499h1v3h-1zM246 183h1v1h-1zM246 342h1v1h-1zM246 502h1v3h-1zM247 184h1v1h-1zM247 343h1v2h-1zM247 505h1v2h-1zM248 185h2v1h-2zM248 345h1v1h-1zM248 507h1v3h-1zM249 346h1v2h-1zM249 510h1v2h-1zM250 186h1v1h-1zM250 348h1v2h-1zM250 512h1v2h-1zM251 187h1v1h-1zM251 350h1v2h-1zM251 514h1v2h-1zM252 188h1v1h-1zM252 352h1v2h-1zM252 516h1v2h-1zM253 189h1v1h-1zM253 354h1v2h-1zM253 518h1v4h-1zM254 190h2v1h-2zM254 356h1v2h-1zM254 522h1v3h-1zM255 358h1v2h-1zM255 525h1v3h-1zM256 191h2v1h-2zM256 360h1v2h-1zM256 528h1v4h-1zM257 362h1v2h-1zM257 532h1v3h-1zM258 192h2v1h-2zM258 364h1v2h-1zM258 535h1v4h-1zM259 366h1v2h-1zM259 539h1v4h-1zM260 193h2v1h-2zM260 368h1v3h-1zM260 543h1v4h-1zM261 371h1v2h-1zM261 547h1v4h-1zM262 194h2v1h-2zM262 373h1v2h-1zM262 551h1v4h-1zM263 375h1v2h-1zM263 555h1v4h-1zM264 195h4v1h-4zM264 377h1v3h-1zM264 559h1v3h-1zM265 380h1v2h-1zM265 562h1v4h-1zM266 382h1v2h-1zM266 566h1v4h-1zM267 384h1v3h-1zM267 570h1v3h-1zM268 196h2v1h-2zM268 387h1v2h-1zM268 573h1v4h-1zM269 389h1v2h-1zM269 577h1v4h-1zM270 197h1v2h-1zM270 391h1v2h-1zM270 581h1v3h-1zM271 199h1v2h-1zM271 393h1v2h-1zM271 584h1v2h-1zM272 201h1v2h-1zM272 395h1v2h-1zM272 586h1v2h-1zM273 203h1v2h-1zM273 397h1v1h-1zM273 588h1v2h-1zM274 205h1v1h-1zM274 398h1v2h-1zM274 590h1v2h-1zM275 206h1v2h-1zM275 400h1v2h-1zM275 592h1v2h-1zM276 208h1v2h-1zM276 402h1v1h-1zM276 594h1v2h-1zM277 210h1v2h-1zM277 403h1v1h-1zM277 596h1v1h-1zM277 597h4v1h-4zM278 212h1v2h-1zM278 404h1v2h-1zM279 214h1v2h-1zM279 406h1v1h-1zM280 216h1v2h-1zM280 407h1v1h-1zM281 218h1v2h-1zM281 408h1v1h-1zM281 596h4v1h-4zM282 220h1v3h-1zM282 409h1v2h-1zM283 223h1v2h-1zM283 411h1v1h-1zM284 225h1v2h-1zM284 412h1v1h-1zM285 227h1v2h-1zM285 413h2v1h-2zM285 595h1v1h-1zM286 229h1v3h-1zM286 594h1v1h-1zM287 232h1v2h-1zM287 414h1v1h-1zM287 593h2v1h-2zM288 234h1v2h-1zM288 415h2v1h-2zM289 236h1v2h-1zM289 592h1v1h-1zM290 238h1v2h-1zM290 416h1v1h-1zM290 591h1v1h-1zM291 240h1v2h-1zM291 417h1v1h-1zM291 590h1v1h-1zM292 242h1v2h-1zM292 418h2v1h-2zM292 589h1v1h-1zM293 244h1v2h-1zM293 588h1v1h-1zM294 246h1v1h-1zM294 419h2v1h-2zM294 587h1v1h-1zM295 247h1v2h-1zM295 586h1v1h-1zM296 249h1v2h-1zM296 420h2v1h-2zM296 585h1v1h-1zM297 251h1v2h-1zM297 584h1v1h-1zM298 253h1v2h-1zM298 421h3v1h-3zM298 583h1v1h-1zM299 255h1v2h-1zM299 582h1v1h-1zM300 257h1v2h-1zM300 581h1v1h-1zM301 259h1v2h-1zM301 422h2v1h-2zM301 580h2v1h-2zM302 261h1v1h-1zM303 262h1v2h-1zM303 423h2v1h-2zM303 579h2v1h-2zM304 264h1v1h-1zM305 265h1v1h-1zM305 424h4v1h-4zM305 578h2v1h-2zM306 266h1v2h-1zM307 268h1v1h-1zM307 577h2v1h-2zM308 269h1v1h-1zM309 270h1v2h-1zM309 425h5v1h-5zM309 576h3v1h-3zM310 272h1v1h-1zM311 273h1v1h-1zM312 274h1v1h-1zM312 575h4v1h-4zM313 275h1v2h-1zM314 277h1v1h-1zM314 426h14v1h-14zM315 278h1v1h-1zM316 279h2v1h-2zM316 574h6v1h-6zM318 278h2v1h-2zM320 277h2v1h-2zM322 276h2v1h-2zM322 575h8v1h-8zM324 275h3v1h-3zM327 274h2v1h-2zM328 425h3v1h-3zM329 273h2v1h-2zM330 576h6v1h-6zM331 272h2v1h-2zM331 424h3v1h-3zM333 271h1v1h-1zM334 270h1v1h-1zM334 423h3v1h-3zM335 269h2v1h-2zM336 577h4v1h-4zM337 268h1v1h-1zM337 422h3v1h-3zM338 267h1v1h-1zM339 265h1v2h-1zM340 264h1v1h-1zM340 421h2v1h-2zM340 578h2v1h-2zM341 263h1v1h-1zM342 261h1v2h-1zM342 420h2v1h-2zM342 579h2v1h-2zM343 260h1v1h-1zM344 259h1v1h-1zM344 419h2v1h-2zM344 580h2v1h-2zM345 257h1v2h-1zM346 255h1v2h-1zM346 418h2v1h-2zM346 581h2v1h-2zM347 253h1v2h-1zM348 251h1v2h-1zM348 417h2v1h-2zM348 582h2v1h-2zM349 249h1v2h-1zM350 246h1v3h-1zM350 416h1v1h-1zM350 583h3v1h-3zM351 244h1v2h-1zM351 414h1v2h-1zM352 242h1v2h-1zM352 413h1v1h-1zM353 240h1v2h-1zM353 412h1v1h-1zM353 584h2v1h-2zM354 237h1v3h-1zM354 410h1v2h-1zM355 235h1v2h-1zM355 409h1v1h-1zM355 585h4v1h-4zM356 233h1v2h-1zM356 408h1v1h-1zM357 231h1v2h-1zM357 407h1v1h-1zM358 228h1v3h-1zM358 406h2v1h-2zM359 226h1v2h-1zM359 586h4v1h-4zM360 224h1v2h-1zM360 405h1v1h-1zM361 222h1v2h-1zM361 404h1v1h-1zM362 219h1v3h-1zM362 403h1v1h-1zM363 217h1v2h-1zM363 402h2v1h-2zM363 587h3v1h-3zM364 215h1v2h-1zM365 213h1v2h-1zM365 401h1v1h-1zM366 211h1v2h-1zM366 400h1v1h-1zM366 588h3v1h-3zM367 209h1v2h-1zM367 399h2v1h-2zM368 207h1v2h-1zM369 205h1v2h-1zM369 398h1v1h-1zM369 589h2v1h-2zM370 203h1v2h-1zM370 397h2v1h-2zM371 202h1v1h-1zM371 590h10v1h-10zM372 200h1v2h-1zM372 396h2v1h-2zM373 199h1v1h-1zM374 198h1v1h-1zM374 395h1v1h-1zM375 197h1v1h-1zM375 394h2v1h-2zM376 196h1v1h-1zM377 194h1v2h-1zM377 393h1v1h-1zM378 193h1v1h-1zM378 392h2v1h-2zM379 192h1v1h-1zM380 191h1v1h-1zM380 391h1v1h-1zM381 190h1v1h-1zM381 390h2v1h-2zM381 589h2v1h-2zM382 189h2v1h-2zM383 389h2v1h-2zM383 588h2v1h-2zM384 188h1v1h-1zM385 187h1v1h-1zM385 388h1v1h-1zM385 587h1v1h-1zM386 186h1v1h-1zM386 387h2v1h-2zM386 586h2v1h-2zM387 185h2v1h-2zM388 386h1v1h-1zM388 585h2v1h-2zM389 184h1v1h-1zM389 385h2v1h-2zM390 183h1v1h-1zM390 584h3v1h-3zM391 182h2v1h-2zM391 384h2v1h-2zM393 181h2v1h-2zM393 383h1v1h-1zM393 583h2v1h-2zM394 382h2v1h-2zM395 180h1v1h-1zM395 582h2v1h-2zM396 179h2v1h-2zM396 381h1v1h-1zM397 380h1v1h-1zM397 580h1v2h-1zM398 178h2v1h-2zM398 379h1v1h-1zM398 579h1v1h-1zM399 378h1v1h-1zM399 578h1v1h-1zM400 177h2v1h-2zM400 377h1v1h-1zM400 576h1v2h-1zM401 376h1v1h-1zM401 575h1v1h-1zM402 176h2v1h-2zM402 375h1v1h-1zM402 574h1v1h-1zM403 373h1v2h-1zM403 572h1v2h-1zM404 175h3v1h-3zM404 372h1v1h-1zM404 570h1v2h-1zM405 371h1v1h-1zM405 568h1v2h-1zM406 370h1v1h-1zM406 566h1v2h-1zM407 174h2v1h-2zM407 369h1v1h-1zM407 564h1v2h-1zM408 368h1v1h-1zM408 562h1v2h-1zM409 173h2v1h-2zM409 367h1v1h-1zM409 560h1v2h-1zM410 366h1v1h-1zM410 558h1v2h-1zM411 172h2v1h-2zM411 364h1v2h-1zM411 556h1v2h-1zM412 362h1v2h-1zM412 554h1v2h-1zM413 173h1v1h-1zM413 361h1v1h-1zM413 551h1v3h-1zM414 174h1v1h-1zM414 359h1v2h-1zM414 547h1v4h-1zM415 175h2v1h-2zM415 358h1v1h-1zM415 543h1v4h-1zM416 356h1v2h-1zM416 539h1v4h-1zM417 176h1v1h-1zM417 354h1v2h-1zM417 535h1v4h-1zM418 177h1v1h-1zM418 353h1v1h-1zM418 529h1v6h-1zM419 178h1v1h-1zM419 351h1v2h-1zM419 523h1v6h-1zM420 179h1v2h-1zM420 350h1v1h-1zM420 516h1v7h-1zM421 181h1v3h-1zM421 348h1v2h-1zM421 510h1v6h-1zM422 184h1v3h-1zM422 346h1v2h-1zM422 503h1v7h-1zM423 187h1v2h-1zM423 344h1v2h-1zM423 496h1v7h-1zM424 189h1v3h-1zM424 342h1v2h-1zM424 489h1v7h-1zM425 192h1v3h-1zM425 341h1v1h-1zM425 482h1v7h-1zM426 195h1v4h-1zM426 339h1v2h-1zM426 475h1v7h-1zM427 199h1v5h-1zM427 337h1v2h-1zM427 468h1v7h-1zM428 204h1v5h-1zM428 335h1v2h-1zM428 461h1v7h-1zM429 209h1v5h-1zM429 333h1v2h-1zM429 454h1v7h-1zM430 214h1v5h-1zM430 332h1v1h-1zM430 446h1v8h-1zM431 219h1v4h-1zM431 330h1v2h-1zM431 437h1v9h-1zM432 223h1v4h-1zM432 328h1v2h-1zM432 428h1v9h-1zM433 227h1v4h-1zM433 326h1v2h-1zM433 419h1v9h-1zM434 231h1v4h-1zM434 325h1v1h-1zM434 411h1v8h-1zM435 235h1v2h-1zM435 323h1v2h-1zM435 405h1v6h-1zM436 237h1v2h-1zM436 321h1v2h-1zM436 399h1v6h-1zM437 239h1v2h-1zM437 319h1v2h-1zM437 393h1v6h-1zM438 241h1v2h-1zM438 318h1v1h-1zM438 389h1v4h-1zM439 243h1v2h-1zM439 317h1v1h-1zM439 386h1v3h-1zM440 245h1v1h-1zM440 316h1v1h-1zM440 383h1v3h-1zM441 246h1v1h-1zM441 315h2v1h-2zM441 381h1v2h-1zM442 247h1v2h-1zM442 378h1v3h-1zM443 249h1v1h-1zM443 314h1v1h-1zM443 376h1v2h-1zM444 250h1v1h-1zM444 313h1v1h-1zM444 375h2v1h-2zM445 251h2v1h-2zM445 312h1v1h-1zM446 311h2v1h-2zM446 374h2v1h-2zM447 250h2v1h-2zM448 310h4v1h-4zM448 373h2v1h-2zM449 249h3v1h-3zM450 372h2v1h-2zM452 248h3v1h-3zM452 309h3v1h-3zM452 371h4v1h-4zM455 247h3v1h-3zM455 308h4v1h-4zM456 370h3v1h-3zM458 246h3v1h-3zM459 307h3v1h-3zM459 369h2v1h-2zM461 247h2v1h-2zM461 367h1v2h-1zM462 306h2v1h-2zM462 365h1v2h-1zM463 248h1v1h-1zM463 363h1v2h-1zM464 249h2v1h-2zM464 305h3v1h-3zM464 362h1v1h-1zM465 360h1v2h-1zM466 250h1v1h-1zM466 358h1v2h-1zM467 251h2v1h-2zM467 304h2v1h-2zM467 356h1v2h-1zM468 355h1v1h-1zM469 252h4v1h-4zM469 303h2v1h-2zM469 354h2v1h-2zM471 302h3v1h-3zM471 353h1v1h-1zM472 352h2v1h-2zM473 251h3v1h-3zM474 301h2v1h-2zM474 351h1v1h-1zM475 350h2v1h-2zM476 250h2v1h-2zM476 300h2v1h-2zM477 349h1v1h-1zM478 249h2v1h-2zM478 299h2v1h-2zM478 348h2v1h-2zM480 248h2v1h-2zM480 298h2v1h-2zM480 347h1v1h-1zM481 346h2v1h-2zM482 247h2v1h-2zM482 297h2v1h-2zM483 345h1v1h-1zM484 246h3v1h-3zM484 296h1v1h-1zM484 344h2v1h-2zM485 295h2v1h-2zM486 343h1v1h-1zM487 245h2v1h-2zM487 294h2v1h-2zM487 342h2v1h-2zM489 244h16v1h-16zM489 293h2v1h-2zM489 341h1v1h-1zM490 340h2v1h-2zM491 292h1v1h-1zM492 291h2v1h-2zM492 339h1v1h-1zM493 338h2v1h-2zM494 290h2v1h-2zM495 337h1v1h-1zM496 289h4v1h-4zM496 336h1v1h-1zM497 335h2v1h-2zM499 334h1v1h-1zM500 288h6v1h-6zM500 333h9v1h-9zM505 243h5v1h-5zM506 287h5v1h-5zM509 334h12v1h-12zM510 244h4v1h-4zM511 288h4v1h-4zM514 245h3v1h-3zM515 289h4v1h-4zM517 246h3v1h-3zM519 290h5v1h-5zM520 247h3v1h-3zM521 335h8v1h-8zM523 248h3v1h-3zM524 291h7v1h-7zM526 249h3v1h-3zM529 250h13v1h-13zM529 336h8v1h-8zM531 292h6v1h-6zM537 293h7v1h-7zM537 337h4v1h-4zM541 338h2v1h-2zM542 249h2v1h-2zM543 339h1v1h-1zM544 248h2v1h-2zM544 294h7v1h-7zM544 340h1v1h-1zM545 341h2v1h-2zM546 247h2v1h-2zM547 342h1v1h-1zM548 246h2v1h-2zM548 343h1v1h-1zM549 344h1v1h-1zM550 245h2v1h-2zM550 345h1v1h-1zM551 295h6v1h-6zM551 346h1v1h-1zM552 244h2v1h-2zM552 347h1v1h-1zM553 348h1v1h-1zM554 243h2v1h-2zM554 349h1v1h-1zM555 350h1v1h-1zM556 242h2v1h-2zM556 351h1v1h-1zM557 296h5v1h-5zM557 352h1v1h-1zM558 241h2v1h-2zM558 353h1v1h-1zM559 354h1v1h-1zM560 240h2v1h-2zM560 355h1v1h-1zM561 356h2v1h-2zM562 239h2v1h-2zM562 297h4v1h-4zM563 357h1v1h-1zM564 238h2v1h-2zM564 358h1v1h-1zM565 359h2v1h-2zM566 237h3v1h-3zM566 298h3v1h-3zM567 360h1v1h-1zM568 361h1v1h-1zM569 236h4v1h-4zM569 299h3v1h-3zM569 362h2v1h-2zM571 363h2v1h-2zM572 300h4v1h-4zM573 235h4v1h-4zM573 364h2v1h-2zM575 365h1v1h-1zM576 301h3v1h-3zM576 366h2v1h-2zM577 234h7v1h-7zM578 367h2v1h-2zM579 302h3v1h-3zM580 368h1v1h-1zM581 369h2v1h-2zM582 303h3v1h-3zM583 370h1v1h-1zM584 235h6v1h-6zM584 371h1v1h-1zM585 304h3v1h-3zM585 372h2v1h-2zM587 373h1v1h-1zM588 305h3v1h-3zM588 374h3v1h-3zM590 236h2v1h-2zM591 306h2v1h-2zM591 375h4v1h-4zM592 237h2v1h-2zM593 307h3v1h-3zM594 238h2v1h-2zM595 376h4v1h-4zM596 239h2v1h-2zM596 308h3v1h-3zM598 240h2v1h-2zM599 309h3v1h-3zM599 377h3v1h-3zM600 241h2v1h-2zM602 242h3v1h-3zM602 310h2v1h-2zM602 378h2v1h-2zM604 311h2v1h-2zM604 379h2v1h-2zM605 243h2v1h-2zM606 312h2v1h-2zM606 380h1v1h-1zM607 244h16v1h-16zM607 381h1v1h-1zM608 313h3v1h-3zM608 382h1v1h-1zM609 383h2v1h-2zM611 314h2v1h-2zM611 384h1v1h-1zM612 385h1v1h-1zM613 315h2v1h-2zM613 386h1v1h-1zM614 387h1v1h-1zM615 316h2v1h-2zM615 388h1v1h-1zM616 389h2v1h-2zM617 317h2v1h-2zM618 390h1v1h-1zM619 318h3v1h-3zM619 391h1v1h-1zM620 392h2v1h-2zM622 319h2v1h-2zM622 393h2v1h-2zM623 245h5v1h-5zM624 320h3v1h-3zM624 394h2v1h-2zM626 395h2v1h-2zM627 321h2v1h-2zM628 246h4v1h-4zM628 396h1v1h-1zM629 322h2v1h-2zM629 397h1v1h-1zM630 398h1v1h-1zM631 323h2v1h-2zM631 399h1v1h-1zM632 247h3v1h-3zM632 400h1v1h-1zM633 324h2v1h-2zM633 401h1v1h-1zM634 402h1v1h-1zM635 248h2v1h-2zM635 325h1v1h-1zM635 403h1v2h-1zM636 326h2v1h-2zM636 405h1v1h-1zM637 249h2v1h-2zM637 406h1v1h-1zM638 327h1v1h-1zM638 407h1v1h-1zM639 250h1v1h-1zM639 328h1v1h-1zM639 408h1v1h-1zM640 251h2v1h-2zM640 329h2v1h-2zM640 409h2v1h-2zM642 252h1v1h-1zM642 330h1v1h-1zM642 410h1v1h-1zM643 253h1v1h-1zM643 331h1v1h-1zM643 411h1v1h-1zM644 254h1v1h-1zM644 332h1v1h-1zM644 412h2v1h-2zM645 255h1v2h-1zM645 333h1v1h-1zM646 257h1v2h-1zM646 334h1v1h-1zM646 413h2v1h-2zM647 259h1v1h-1zM647 335h1v2h-1zM648 260h1v2h-1zM648 337h1v1h-1zM648 414h2v1h-2zM649 262h1v1h-1zM649 338h1v1h-1zM650 263h1v2h-1zM650 339h1v1h-1zM650 415h2v1h-2zM651 265h1v2h-1zM651 340h1v1h-1zM652 267h1v1h-1zM652 341h1v1h-1zM652 416h2v1h-2zM653 268h1v1h-1zM653 342h1v1h-1zM654 269h1v1h-1zM654 343h2v1h-2zM654 417h2v1h-2zM655 270h1v1h-1zM656 271h1v2h-1zM656 344h1v1h-1zM656 418h2v1h-2zM657 273h1v1h-1zM657 345h1v1h-1zM658 274h1v1h-1zM658 346h1v1h-1zM658 419h2v1h-2zM659 275h1v1h-1zM659 347h1v1h-1zM660 276h1v1h-1zM660 348h2v1h-2zM660 420h2v1h-2zM661 277h1v1h-1zM662 278h1v1h-1zM662 349h1v1h-1zM662 421h2v1h-2zM663 279h1v1h-1zM663 350h1v1h-1zM664 280h1v2h-1zM664 351h1v1h-1zM664 422h2v1h-2zM665 282h1v1h-1zM665 352h1v1h-1zM666 283h1v1h-1zM666 353h1v1h-1zM666 423h2v1h-2zM667 284h1v1h-1zM667 354h1v1h-1zM668 285h4v1h-4zM668 355h1v1h-1zM668 424h1v1h-1zM669 356h2v1h-2zM669 425h1v2h-1zM670 427h1v1h-1zM671 357h1v1h-1zM671 428h1v2h-1zM672 284h7v1h-7zM672 358h1v1h-1zM672 430h1v2h-1zM673 359h1v1h-1zM673 432h1v2h-1zM674 360h1v1h-1zM674 434h1v2h-1zM675 361h1v1h-1zM675 436h1v2h-1zM676 362h1v1h-1zM676 438h1v2h-1zM677 363h1v1h-1zM677 440h1v2h-1zM678 364h1v1h-1zM678 442h1v2h-1zM679 283h5v1h-5zM679 365h1v1h-1zM679 444h1v2h-1zM680 366h1v1h-1zM680 446h1v2h-1zM681 367h2v1h-2zM681 448h1v2h-1zM682 450h1v2h-1zM683 368h1v1h-1zM683 452h1v2h-1zM684 284h2v1h-2zM684 369h1v1h-1zM684 454h1v2h-1zM685 370h1v1h-1zM685 456h1v1h-1zM686 285h2v1h-2zM686 371h1v1h-1zM686 457h1v1h-1zM687 372h1v1h-1zM687 458h1v1h-1zM688 286h2v1h-2zM688 373h1v1h-1zM688 459h1v2h-1zM689 374h1v1h-1zM689 461h1v1h-1zM690 287h1v1h-1zM690 375h1v1h-1zM690 462h1v1h-1zM691 288h1v1h-1zM691 376h1v1h-1zM691 463h1v1h-1zM692 289h1v1h-1zM692 377h1v1h-1zM692 464h1v1h-1zM693 290h1v1h-1zM693 378h1v1h-1zM693 465h1v1h-1zM694 291h1v2h-1zM694 379h1v1h-1zM694 466h1v1h-1zM695 293h1v1h-1zM695 380h1v1h-1zM695 467h1v1h-1zM696 294h1v1h-1zM696 381h1v1h-1zM696 468h1v1h-1zM697 295h1v1h-1zM697 382h1v1h-1zM697 469h1v1h-1zM698 296h3v1h-3zM698 383h2v1h-2zM698 470h1v1h-1zM699 471h1v1h-1zM700 384h1v1h-1zM700 472h1v1h-1zM701 297h6v1h-6zM701 385h1v1h-1zM701 473h1v2h-1zM702 386h1v1h-1zM702 475h1v1h-1zM703 387h2v1h-2zM703 476h1v1h-1zM704 477h1v2h-1zM705 388h1v1h-1zM705 479h1v1h-1zM706 389h1v1h-1zM706 480h1v1h-1zM707 298h5v1h-5zM707 390h1v1h-1zM707 481h1v2h-1zM708 391h2v1h-2zM708 483h1v1h-1zM709 484h1v2h-1zM710 392h1v1h-1zM710 486h1v1h-1zM711 393h1v1h-1zM711 487h1v2h-1zM712 299h6v1h-6zM712 394h1v1h-1zM712 489h1v1h-1zM713 395h2v1h-2zM713 490h1v1h-1zM714 491h1v2h-1zM715 396h1v1h-1zM715 493h1v1h-1zM716 397h1v1h-1zM716 494h1v1h-1zM717 398h2v1h-2zM717 495h1v1h-1zM718 300h3v1h-3zM718 496h1v2h-1zM719 399h1v1h-1zM719 498h1v1h-1zM720 400h2v1h-2zM720 499h1v1h-1zM721 301h2v1h-2zM721 500h2v1h-2zM722 401h1v1h-1zM723 302h1v1h-1zM723 402h2v1h-2zM723 501h2v1h-2zM724 303h2v1h-2zM725 403h1v1h-1zM725 502h2v1h-2zM726 304h1v1h-1zM726 404h2v1h-2zM727 305h1v1h-1zM727 503h1v1h-1zM728 306h2v1h-2zM728 405h2v1h-2zM728 504h2v1h-2zM730 307h1v1h-1zM730 406h2v1h-2zM730 505h2v1h-2zM731 308h2v1h-2zM732 407h3v1h-3zM732 506h3v1h-3zM733 309h1v1h-1zM734 310h2v1h-2zM735 408h2v1h-2zM735 505h4v1h-4zM736 311h1v1h-1zM737 312h1v1h-1zM737 409h2v1h-2zM738 313h2v1h-2zM739 410h4v1h-4zM739 504h4v1h-4zM740 314h2v1h-2zM742 315h2v1h-2zM743 411h4v1h-4zM743 503h3v1h-3zM744 316h2v1h-2zM746 317h2v1h-2zM746 502h3v1h-3zM747 412h4v1h-4zM748 318h2v1h-2zM749 501h3v1h-3zM750 319h1v1h-1zM751 320h1v1h-1zM751 413h4v1h-4zM752 321h1v1h-1zM752 500h3v1h-3zM753 322h1v1h-1zM754 323h1v1h-1zM755 324h1v1h-1zM755 414h4v1h-4zM755 499h3v1h-3zM756 325h1v1h-1zM757 326h1v1h-1zM758 327h1v1h-1zM758 498h2v1h-2zM759 328h1v2h-1zM759 415h4v1h-4zM760 330h1v1h-1zM760 497h2v1h-2zM761 331h1v2h-1zM762 333h1v1h-1zM762 496h2v1h-2zM763 334h1v2h-1zM763 416h4v1h-4zM764 336h1v1h-1zM764 495h2v1h-2zM765 337h2v1h-2zM766 494h2v1h-2zM767 338h2v1h-2zM767 417h6v1h-6zM768 493h7v1h-7zM769 339h1v1h-1zM770 340h2v1h-2zM772 341h2v1h-2zM773 418h5v1h-5zM774 342h2v1h-2zM775 492h8v1h-8zM776 343h2v1h-2zM778 344h2v1h-2zM778 419h9v1h-9zM780 345h2v1h-2zM782 346h2v1h-2zM783 491h5v1h-5zM784 347h2v1h-2zM786 348h2v1h-2zM787 420h8v1h-8zM788 349h3v1h-3zM788 490h4v1h-4zM791 350h2v1h-2zM792 489h4v1h-4zM793 351h2v1h-2zM795 352h6v1h-6zM795 421h4v1h-4zM796 490h2v1h-2zM798 491h2v1h-2zM799 422h4v1h-4zM800 492h2v1h-2zM801 353h8v1h-8zM802 493h2v1h-2zM803 423h2v1h-2zM804 494h1v1h-1zM805 424h2v1h-2zM805 495h2v1h-2zM807 425h2v1h-2zM807 496h2v1h-2zM809 354h5v1h-5zM809 426h2v1h-2zM809 497h1v1h-1zM810 498h2v1h-2zM811 427h1v1h-1zM812 428h2v1h-2zM812 499h1v1h-1zM813 500h1v2h-1zM814 353h3v1h-3zM814 429h2v1h-2zM814 502h1v2h-1zM815 504h1v2h-1zM816 430h1v1h-1zM816 506h1v2h-1zM817 352h2v1h-2zM817 431h2v1h-2zM817 508h1v2h-1zM818 510h1v2h-1zM819 351h10v1h-10zM819 432h2v1h-2zM819 512h1v2h-1zM820 514h1v1h-1zM821 433h2v1h-2zM821 515h1v1h-1zM822 516h1v2h-1zM823 434h1v1h-1zM823 518h1v1h-1zM824 435h2v1h-2zM824 519h1v1h-1zM825 520h1v1h-1zM826 436h2v1h-2zM826 521h1v2h-1zM827 523h1v1h-1zM828 437h9v1h-9zM828 524h3v1h-3zM829 350h16v1h-16zM831 525h6v1h-6zM837 438h9v1h-9zM837 526h5v1h-5zM842 527h3v1h-3zM845 349h9v1h-9zM845 528h1v1h-1zM846 439h3v1h-3zM846 529h1v1h-1zM847 530h2v1h-2zM849 440h2v1h-2zM849 531h1v1h-1zM850 532h1v1h-1zM851 441h3v1h-3zM851 533h1v1h-1zM852 534h1v1h-1zM853 535h1v1h-1zM854 348h3v1h-3zM854 442h3v1h-3zM854 536h1v2h-1zM855 538h1v1h-1zM856 539h1v1h-1zM857 347h2v1h-2zM857 443h2v1h-2zM857 540h1v1h-1zM858 541h1v2h-1zM859 346h10v1h-10zM859 444h6v1h-6zM859 543h1v1h-1zM860 544h5v1h-5zM865 445h8v1h-8zM865 545h8v1h-8zM869 345h14v1h-14zM873 446h8v1h-8zM873 546h5v1h-5zM878 547h3v1h-3zM881 447h6v1h-6zM881 548h3v1h-3zM883 346h8v1h-8zM884 549h3v1h-3zM887 448h6v1h-6zM887 550h15v1h-15zM891 347h4v1h-4zM893 449h5v1h-5zM895 348h4v1h-4zM898 450h4v1h-4zM899 349h2v1h-2zM901 350h2v1h-2zM902 451h3v1h-3zM902 549h4v1h-4zM903 351h2v1h-2zM905 352h1v1h-1zM905 452h4v1h-4zM906 353h2v1h-2zM906 548h3v1h-3zM908 354h1v1h-1zM909 355h1v1h-1zM909 453h3v1h-3zM909 547h3v1h-3zM910 356h1v1h-1zM911 357h1v1h-1zM912 358h1v1h-1zM912 454h3v1h-3zM912 546h2v1h-2zM913 359h1v1h-1zM914 360h1v1h-1zM914 545h2v1h-2zM915 361h1v1h-1zM915 455h4v1h-4zM916 362h1v1h-1zM916 544h2v1h-2zM917 363h1v1h-1zM918 364h1v1h-1zM918 543h2v1h-2zM919 365h1v1h-1zM919 456h4v1h-4zM920 366h1v1h-1zM920 542h3v1h-3zM921 367h1v1h-1zM922 368h1v1h-1zM923 369h1v1h-1zM923 457h4v1h-4zM923 541h4v1h-4zM924 370h1v1h-1zM925 371h1v1h-1zM926 372h1v1h-1zM927 373h2v1h-2zM927 458h4v1h-4zM927 540h4v1h-4zM929 374h1v1h-1zM930 375h1v1h-1zM931 376h1v1h-1zM931 459h3v1h-3zM931 539h4v1h-4zM932 377h1v1h-1zM933 378h1v1h-1zM934 379h1v1h-1zM934 460h4v1h-4zM935 380h1v1h-1zM935 538h3v1h-3zM936 381h1v1h-1zM937 382h1v1h-1zM938 383h1v1h-1zM938 461h3v1h-3zM938 537h2v1h-2zM939 384h1v1h-1zM940 385h1v1h-1zM940 536h3v1h-3zM941 386h1v1h-1zM941 462h4v1h-4zM942 387h1v1h-1zM943 388h1v1h-1zM943 535h2v1h-2zM944 389h1v1h-1zM945 390h1v1h-1zM945 463h15v1h-15zM945 534h2v1h-2zM946 391h1v1h-1zM947 392h1v1h-1zM947 533h8v1h-8zM948 393h3v1h-3zM951 394h4v1h-4zM955 395h3v1h-3zM955 532h12v1h-12zM958 394h2v1h-2zM960 393h2v1h-2zM960 462h6v1h-6zM962 392h2v1h-2zM964 391h2v1h-2zM966 390h3v1h-3zM966 461h4v1h-4zM967 531h6v1h-6zM969 389h2v1h-2zM970 460h2v1h-2zM971 388h5v1h-5zM972 459h3v1h-3zM973 530h1v1h-1zM974 529h1v1h-1zM975 458h2v1h-2zM975 528h2v1h-2zM976 389h6v1h-6zM977 457h2v1h-2zM977 527h1v1h-1zM978 526h1v1h-1zM979 456h4v1h-4zM979 525h1v1h-1zM980 524h1v1h-1zM981 523h1v1h-1zM982 390h13v1h-13zM982 522h1v1h-1zM983 455h4v1h-4zM983 521h2v1h-2zM985 520h1v1h-1zM986 519h1v1h-1zM987 454h4v1h-4zM987 518h1v1h-1zM988 517h2v1h-2zM990 516h3v1h-3zM991 453h4v1h-4zM993 515h4v1h-4zM995 389h4v1h-4zM995 452h3v1h-3zM997 514h3v1h-3zM998 451h3v1h-3zM999 388h6v1h-6zM1000 513h3v1h-3zM1001 450h4v1h-4zM1003 512h2v1h-2zM1005 389h4v1h-4zM1005 449h3v1h-3zM1005 511h1v1h-1zM1006 510h1v1h-1zM1007 509h2v1h-2zM1008 448h3v1h-3zM1009 390h1v1h-1zM1009 508h1v1h-1zM1010 391h2v1h-2zM1010 507h1v1h-1zM1011 447h3v1h-3zM1011 506h1v1h-1zM1012 392h1v1h-1zM1012 504h1v2h-1zM1013 393h1v1h-1zM1013 502h1v2h-1zM1014 394h1v1h-1zM1014 446h3v1h-3zM1014 500h1v2h-1zM1015 395h1v1h-1zM1015 498h1v2h-1zM1016 396h2v1h-2zM1016 496h1v2h-1zM1017 445h2v1h-2zM1017 494h1v2h-1zM1018 397h1v1h-1zM1018 492h1v2h-1zM1019 398h1v1h-1zM1019 444h3v1h-3zM1019 490h1v2h-1zM1020 399h5v1h-5zM1020 489h1v1h-1zM1021 488h1v1h-1zM1022 443h2v1h-2zM1022 487h1v1h-1zM1023 486h1v1h-1zM1024 442h2v1h-2zM1024 485h1v1h-1zM1025 398h8v1h-8zM1025 484h1v1h-1zM1026 441h3v1h-3zM1026 483h1v1h-1zM1027 482h1v1h-1zM1028 481h1v1h-1zM1029 440h2v1h-2zM1029 480h2v1h-2zM1031 439h2v1h-2zM1031 479h2v1h-2zM1033 397h4v1h-4zM1033 438h2v1h-2zM1033 478h1v1h-1zM1034 477h2v1h-2zM1035 437h2v1h-2zM1036 476h2v1h-2zM1037 396h1v1h-1zM1037 436h2v1h-2zM1038 395h1v1h-1zM1038 475h4v1h-4zM1039 394h2v1h-2zM1039 435h2v1h-2zM1041 393h1v1h-1zM1041 434h2v1h-2zM1042 392h1v1h-1zM1042 474h6v1h-6zM1043 391h1v1h-1zM1043 433h2v1h-2zM1044 390h1v1h-1zM1045 389h1v1h-1zM1045 432h1v1h-1zM1046 388h1v1h-1zM1046 431h2v1h-2zM1047 387h1v1h-1zM1048 386h1v1h-1zM1048 430h2v1h-2zM1048 473h4v1h-4zM1049 385h1v1h-1zM1050 384h1v1h-1zM1050 429h2v1h-2zM1051 383h1v1h-1zM1052 382h1v1h-1zM1052 428h2v1h-2zM1052 474h2v1h-2zM1053 380h1v2h-1zM1054 379h1v1h-1zM1054 427h3v1h-3zM1054 475h3v1h-3zM1055 377h1v2h-1zM1056 376h1v1h-1zM1057 374h1v2h-1zM1057 426h2v1h-2zM1057 476h2v1h-2zM1058 373h1v1h-1zM1059 371h1v2h-1zM1059 425h3v1h-3zM1059 477h2v1h-2zM1060 370h1v1h-1zM1061 368h1v2h-1zM1061 478h1v1h-1zM1062 367h1v1h-1zM1062 424h3v1h-3zM1062 479h1v1h-1zM1063 365h1v2h-1zM1063 480h1v1h-1zM1064 364h1v1h-1zM1064 481h1v1h-1zM1065 362h1v2h-1zM1065 423h2v1h-2zM1065 482h1v1h-1zM1066 361h1v1h-1zM1066 483h1v1h-1zM1067 359h1v2h-1zM1067 422h3v1h-3zM1067 484h1v1h-1zM1068 358h1v1h-1zM1068 485h4v1h-4zM1069 357h1v1h-1zM1070 355h1v2h-1zM1070 421h2v1h-2zM1071 354h1v1h-1zM1072 353h1v1h-1zM1072 420h2v1h-2zM1072 486h8v1h-8zM1073 352h1v1h-1zM1074 350h1v2h-1zM1074 419h3v1h-3zM1075 349h1v1h-1zM1076 348h1v1h-1zM1077 347h2v1h-2zM1077 418h2v1h-2zM1079 346h1v1h-1zM1079 417h2v1h-2zM1080 345h1v1h-1zM1080 487h4v1h-4zM1081 344h2v1h-2zM1081 416h2v1h-2zM1083 343h1v1h-1zM1083 415h3v1h-3zM1084 342h5v1h-5zM1084 486h2v1h-2zM1086 414h3v1h-3zM1086 485h2v1h-2zM1088 484h2v1h-2zM1089 341h5v1h-5zM1089 413h2v1h-2zM1090 483h2v1h-2zM1091 412h3v1h-3zM1092 482h1v1h-1zM1093 481h2v1h-2zM1094 340h3v1h-3zM1094 411h2v1h-2zM1095 480h2v1h-2zM1096 410h2v1h-2zM1097 339h2v1h-2zM1097 479h1v1h-1zM1098 409h2v1h-2zM1098 478h2v1h-2zM1099 338h2v1h-2zM1100 408h2v1h-2zM1100 477h10v1h-10zM1101 337h2v1h-2zM1102 407h2v1h-2zM1103 336h1v1h-1zM1104 335h2v1h-2zM1104 406h2v1h-2zM1106 334h1v1h-1zM1106 405h2v1h-2zM1107 332h1v2h-1zM1108 331h1v1h-1zM1108 404h2v1h-2zM1109 329h1v2h-1zM1110 328h1v1h-1zM1110 403h2v1h-2zM1110 478h2v1h-2zM1111 326h1v2h-1zM1112 325h1v1h-1zM1112 402h2v1h-2zM1112 479h2v1h-2zM1113 323h1v2h-1zM1114 322h1v1h-1zM1114 401h2v1h-2zM1114 480h2v1h-2zM1115 321h1v1h-1zM1116 320h1v1h-1zM1116 400h2v1h-2zM1116 481h3v1h-3zM1117 319h1v1h-1zM1118 317h1v2h-1zM1118 399h1v1h-1zM1119 316h1v1h-1zM1119 398h2v1h-2zM1119 480h6v1h-6zM1120 315h1v1h-1zM1121 314h1v1h-1zM1121 397h2v1h-2zM1122 313h1v1h-1zM1123 312h1v1h-1zM1123 396h2v1h-2zM1124 311h1v1h-1zM1125 310h2v1h-2zM1125 395h1v1h-1zM1125 479h5v1h-5zM1126 394h2v1h-2zM1127 309h1v1h-1zM1128 308h1v1h-1zM1128 393h2v1h-2zM1129 307h1v1h-1zM1130 306h1v1h-1zM1130 392h2v1h-2zM1130 478h4v1h-4zM1131 305h1v1h-1zM1132 304h1v1h-1zM1132 391h1v1h-1zM1133 303h1v1h-1zM1133 390h2v1h-2zM1134 302h1v1h-1zM1134 477h2v1h-2zM1135 301h1v1h-1zM1135 389h1v1h-1zM1136 300h1v1h-1zM1136 388h1v1h-1zM1136 476h2v1h-2zM1137 299h1v1h-1zM1137 387h2v1h-2zM1138 298h1v1h-1zM1138 475h2v1h-2zM1139 296h1v2h-1zM1139 386h1v1h-1zM1140 294h1v2h-1zM1140 385h1v1h-1zM1140 474h1v1h-1zM1141 293h1v1h-1zM1141 384h1v1h-1zM1141 473h2v1h-2zM1142 291h1v2h-1zM1142 383h1v1h-1zM1143 290h1v1h-1zM1143 382h1v1h-1zM1143 472h1v1h-1zM1144 288h1v2h-1zM1144 381h1v1h-1zM1144 471h1v1h-1zM1145 286h1v2h-1zM1145 380h1v1h-1zM1145 470h2v1h-2zM1146 285h1v1h-1zM1146 379h1v1h-1zM1147 284h1v1h-1zM1147 378h1v1h-1zM1147 469h1v1h-1zM1148 283h1v1h-1zM1148 377h1v1h-1zM1148 468h1v1h-1zM1149 282h1v1h-1zM1149 376h1v1h-1zM1149 467h1v1h-1zM1150 281h1v1h-1zM1150 375h1v1h-1zM1150 466h1v1h-1zM1151 280h1v1h-1zM1151 374h1v1h-1zM1151 465h2v1h-2zM1152 279h1v1h-1zM1152 373h1v1h-1zM1153 278h1v1h-1zM1153 372h1v1h-1zM1153 464h1v1h-1zM1154 277h2v1h-2zM1154 371h1v1h-1zM1154 463h1v1h-1zM1155 370h1v1h-1zM1155 462h1v1h-1zM1156 276h3v1h-3zM1156 369h1v1h-1zM1156 461h1v1h-1zM1157 368h1v1h-1zM1157 460h1v1h-1zM1158 367h1v1h-1zM1158 458h1v2h-1zM1159 275h2v1h-2zM1159 366h1v1h-1zM1159 457h1v1h-1zM1160 365h1v1h-1zM1160 456h1v1h-1zM1161 274h7v1h-7zM1161 364h1v1h-1zM1161 455h1v1h-1zM1162 363h1v1h-1zM1162 453h1v2h-1zM1163 362h1v1h-1zM1163 452h1v1h-1zM1164 361h1v1h-1zM1164 451h1v1h-1zM1165 360h1v1h-1zM1165 449h1v2h-1zM1166 359h1v1h-1zM1166 447h1v2h-1zM1167 358h1v1h-1zM1167 445h1v2h-1zM1168 273h6v1h-6zM1168 357h1v1h-1zM1168 443h1v2h-1zM1169 356h1v1h-1zM1169 441h1v2h-1zM1170 355h1v1h-1zM1170 439h1v2h-1zM1171 354h2v1h-2zM1171 437h1v2h-1zM1172 435h1v2h-1zM1173 353h1v1h-1zM1173 433h1v2h-1zM1174 274h3v1h-3zM1174 352h1v1h-1zM1174 431h1v2h-1zM1175 351h2v1h-2zM1175 429h1v2h-1zM1176 427h1v2h-1zM1177 275h2v1h-2zM1177 350h1v1h-1zM1177 425h1v2h-1zM1178 349h2v1h-2zM1178 423h1v2h-1zM1179 276h3v1h-3zM1179 421h1v2h-1zM1180 348h3v1h-3zM1180 419h1v2h-1zM1181 418h1v1h-1zM1182 277h2v1h-2zM1182 417h1v1h-1zM1183 347h2v1h-2zM1183 416h1v1h-1zM1184 278h2v1h-2zM1184 414h1v2h-1zM1185 346h6v1h-6zM1185 413h1v1h-1zM1186 279h2v1h-2zM1186 412h1v1h-1zM1187 411h1v1h-1zM1188 280h2v1h-2zM1188 410h1v1h-1zM1189 409h2v1h-2zM1190 281h2v1h-2zM1191 345h8v1h-8zM1191 408h2v1h-2zM1192 282h2v1h-2zM1193 407h1v1h-1zM1194 283h2v1h-2zM1194 406h2v1h-2zM1196 284h25v1h-25zM1196 405h2v1h-2zM1198 406h2v1h-2zM1199 346h20v1h-20zM1200 407h3v1h-3zM1203 408h19v1h-19zM1219 345h15v1h-15zM1221 283h15v1h-15zM1222 409h16v1h-16zM1234 346h6v1h-6zM1236 282h34v1h-34zM1238 410h2v1h-2zM1240 347h31v1h-31zM1240 411h3v1h-3zM1243 412h5v1h-5zM1248 411h19v1h-19zM1267 412h24v1h-24zM1270 283h2v1h-2zM1271 348h4v1h-4zM1272 284h2v1h-2zM1274 285h5v1h-5zM1275 349h4v1h-4zM1279 286h8v1h-8zM1279 350h4v1h-4zM1283 351h4v1h-4zM1287 285h5v1h-5zM1287 350h4v1h-4zM1291 349h3v1h-3zM1291 413h18v1h-18zM1292 286h3v1h-3zM1294 350h3v1h-3zM1295 287h2v1h-2zM1297 288h1v1h-1zM1297 351h3v1h-3zM1298 289h2v1h-2zM1300 290h1v1h-1zM1300 352h2v1h-2zM1301 291h1v1h-1zM1302 292h1v1h-1zM1302 353h3v1h-3zM1303 293h1v1h-1zM1304 294h1v1h-1zM1305 295h1v1h-1zM1305 354h2v1h-2zM1306 296h1v1h-1zM1307 297h1v1h-1zM1307 355h2v1h-2zM1308 298h1v1h-1z" fill="#21a45b" shape-rendering="crispEdges"/>
<g shape-rendering="crispEdges">
<rect x="0" y="298" width="1657" height="2" fill="#ff0000"/>
<rect x="0" y="332" width="1657" height="2" fill="#ff0000"/>
<rect x="0" y="363" width="1657" height="2" fill="#ffa500"/>
<rect x="0" y="413" width="1657" height="2" fill="#0000ff"/>
<rect x="0" y="445" width="1657" height="2" fill="#0000ff"/>
<rect x="1169.5" y="333.5" width="174" height="75" fill="none" stroke="#e4700a" stroke-width="3"/>
</g>
<text x="11.5" y="34" font-size="10" fill="#000" stroke="#000" stroke-width="0.3" textLength="187" lengthAdjust="spacingAndGlyphs" xml:space="preserve">HK50-,H4  21222.0 21266.5 20911.5 20911.5</text>
<g shape-rendering="crispEdges" fill="#00ff00">
<rect x="3" y="669" width="3" height="3"/>
<rect x="11" y="672" width="3" height="1"/>
<rect x="19" y="672" width="3" height="9"/>
<rect x="27" y="672" width="3" height="14"/>
<rect x="35" y="672" width="3" height="17"/>
<rect x="43" y="672" width="3" height="19"/>
<rect x="51" y="672" width="3" height="28"/>
<rect x="59" y="672" width="3" height="34"/>
<rect x="67" y="672" width="3" height="39"/>
<rect x="75" y="672" width="3" height="44"/>
<rect x="83" y="672" width="3" height="49"/>
<rect x="91" y="672" width="3" height="50"/>
<rect x="99" y="672" width="3" height="51"/>
<rect x="107" y="672" width="3" height="51"/>
<rect x="115" y="672" width="3" height="52"/>
<rect x="123" y="672" width="3" height="53"/>
<rect x="131" y="672" width="3" height="53"/>
<rect x="139" y="672" width="3" height="52"/>
<rect x="147" y="672" width="3" height="56"/>
<rect x="155" y="672" width="3" height="57"/>
<rect x="163" y="672" width="3" height="64"/>
<rect x="171" y="672" width="3" height="70"/>
<rect x="179" y="672" width="3" height="74"/>
<rect x="187" y="672" width="3" height="76"/>
<rect x="195" y="672" width="3" height="82"/>
<rect x="203" y="672" width="3" height="84"/>
<rect x="211" y="672" width="3" height="82"/>
<rect x="219" y="672" width="3" height="79"/>
<rect x="227" y="672" width="3" height="81"/>
<rect x="235" y="672" width="3" height="78"/>
<rect x="243" y="672" width="3" height="82"/>
<rect x="251" y="672" width="3" height="86"/>
<rect x="259" y="672" width="3" height="93"/>
<rect x="267" y="672" width="3" height="102"/>
<rect x="275" y="672" width="3" height="104"/>
<rect x="283" y="672" width="3" height="94"/>
<rect x="291" y="672" width="3" height="76"/>
<rect x="299" y="672" width="3" height="60"/>
<rect x="307" y="672" width="3" height="50"/>
<rect x="315" y="672" width="3" height="38"/>
<rect x="323" y="672" width="3" height="30"/>
<rect x="331" y="672" width="3" height="24"/>
<rect x="339" y="672" width="3" height="17"/>
<rect x="347" y="672" width="3" height="7"/>
<rect x="355" y="668" width="3" height="4"/>
<rect x="363" y="661" width="3" height="11"/>
<rect x="371" y="656" width="3" height="16"/>
<rect x="379" y="653" width="3" height="19"/>
<rect x="387" y="654" width="3" height="18"/>
<rect x="395" y="657" width="3" height="15"/>
<rect x="403" y="657" width="3" height="15"/>
<rect x="411" y="657" width="3" height="15"/>
<rect x="419" y="656" width="3" height="16"/>
<rect x="427" y="655" width="3" height="17"/>
<rect x="435" y="652" width="3" height="20"/>
<rect x="443" y="650" width="3" height="22"/>
<rect x="451" y="650" width="3" height="22"/>
<rect x="459" y="651" width="3" height="21"/>
<rect x="467" y="653" width="3" height="19"/>
<rect x="475" y="653" width="3" height="19"/>
<rect x="483" y="651" width="3" height="21"/>
<rect x="491" y="648" width="3" height="24"/>
<rect x="499" y="649" width="3" height="23"/>
<rect x="507" y="651" width="3" height="21"/>
<rect x="515" y="654" width="3" height="18"/>
<rect x="523" y="657" width="3" height="15"/>
<rect x="531" y="661" width="3" height="11"/>
<rect x="539" y="662" width="3" height="10"/>
<rect x="547" y="667" width="3" height="5"/>
<rect x="555" y="672" width="3" height="2"/>
<rect x="563" y="672" width="3" height="7"/>
<rect x="571" y="672" width="3" height="10"/>
<rect x="579" y="672" width="3" height="11"/>
<rect x="587" y="672" width="3" height="12"/>
<rect x="595" y="672" width="3" height="12"/>
<rect x="603" y="672" width="3" height="11"/>
<rect x="611" y="672" width="3" height="13"/>
<rect x="619" y="672" width="3" height="16"/>
<rect x="627" y="672" width="3" height="16"/>
<rect x="635" y="672" width="3" height="19"/>
<rect x="643" y="672" width="3" height="23"/>
<rect x="651" y="672" width="3" height="25"/>
<rect x="659" y="672" width="3" height="28"/>
<rect x="667" y="672" width="3" height="29"/>
<rect x="675" y="672" width="3" height="34"/>
<rect x="683" y="672" width="3" height="40"/>
<rect x="691" y="672" width="3" height="40"/>
<rect x="699" y="672" width="3" height="42"/>
<rect x="707" y="672" width="3" height="44"/>
<rect x="715" y="672" width="3" height="46"/>
<rect x="723" y="672" width="3" height="45"/>
<rect x="731" y="672" width="3" height="42"/>
<rect x="739" y="672" width="3" height="37"/>
<rect x="747" y="672" width="3" height="29"/>
<rect x="755" y="672" width="3" height="22"/>
<rect x="763" y="672" width="3" height="17"/>
<rect x="771" y="672" width="3" height="14"/>
<rect x="779" y="672" width="3" height="12"/>
<rect x="787" y="672" width="3" height="9"/>
<rect x="795" y="672" width="3" height="9"/>
<rect x="803" y="672" width="3" height="14"/>
<rect x="811" y="672" width="3" height="19"/>
<rect x="819" y="672" width="3" height="26"/>
<rect x="827" y="672" width="3" height="31"/>
<rect x="835" y="672" width="3" height="31"/>
<rect x="843" y="672" width="3" height="31"/>
<rect x="851" y="672" width="3" height="33"/>
<rect x="859" y="672" width="3" height="37"/>
<rect x="867" y="672" width="3" height="36"/>
<rect x="875" y="672" width="3" height="34"/>
<rect x="883" y="672" width="3" height="32"/>
<rect x="891" y="672" width="3" height="29"/>
<rect x="899" y="672" width="3" height="23"/>
<rect x="907" y="672" width="3" height="16"/>
<rect x="915" y="672" width="3" height="12"/>
<rect x="923" y="672" width="3" height="8"/>
<rect x="931" y="672" width="3" height="8"/>
<rect x="939" y="672" width="3" height="8"/>
<rect x="947" y="672" width="3" height="5"/>
<rect x="955" y="672" width="3" height="1"/>
<rect x="963" y="672" width="3" height="1"/>
<rect x="971" y="670" width="3" height="2"/>
<rect x="979" y="671" width="3" height="1"/>
<rect x="987" y="672" width="3" height="1"/>
<rect x="995" y="672" width="3" height="1"/>
<rect x="1003" y="672" width="3" height="1"/>
<rect x="1011" y="672" width="3" height="1"/>
<rect x="1019" y="672" width="3" height="4"/>
<rect x="1027" y="672" width="3" height="1"/>
<rect x="1035" y="669" width="3" height="3"/>
<rect x="1043" y="664" width="3" height="8"/>
<rect x="1051" y="660" width="3" height="12"/>
<rect x="1059" y="656" width="3" height="16"/>
<rect x="1067" y="651" width="3" height="21"/>
<rect x="1075" y="649" width="3" height="23"/>
<rect x="1083" y="648" width="3" height="24"/>
<rect x="1091" y="650" width="3" height="22"/>
<rect x="1099" y="651" width="3" height="21"/>
<rect x="1107" y="649" width="3" height="23"/>
<rect x="1115" y="645" width="3" height="27"/>
<rect x="1123" y="643" width="3" height="29"/>
<rect x="1131" y="643" width="3" height="29"/>
<rect x="1139" y="640" width="3" height="32"/>
<rect x="1147" y="638" width="3" height="34"/>
<rect x="1155" y="636" width="3" height="36"/>
<rect x="1163" y="635" width="3" height="37"/>
<rect x="1171" y="636" width="3" height="36"/>
<rect x="1179" y="637" width="3" height="35"/>
<rect x="1187" y="643" width="3" height="29"/>
<rect x="1195" y="650" width="3" height="22"/>
<rect x="1203" y="657" width="3" height="15"/>
<rect x="1211" y="661" width="3" height="11"/>
<rect x="1219" y="661" width="3" height="11"/>
<rect x="1227" y="662" width="3" height="10"/>
<rect x="1235" y="664" width="3" height="8"/>
<rect x="1243" y="668" width="3" height="4"/>
<rect x="1251" y="670" width="3" height="2"/>
<rect x="1259" y="671" width="3" height="1"/>
<rect x="1267" y="672" width="3" height="1"/>
<rect x="1275" y="671" width="3" height="1"/>
<rect x="1283" y="669" width="3" height="3"/>
<rect x="1291" y="668" width="3" height="4"/>
<rect x="1299" y="668" width="3" height="4"/>
<rect x="1307" y="669" width="3" height="3"/>
</g>
<path d="M0 661h2v1h-2zM0 662h6v1h-6zM1 663h8v1h-8zM5 664h8v1h-8zM8 665h10v1h-10zM12 666h11v1h-11zM17 667h11v1h-11zM22 668h10v1h-10zM27 669h7v1h-7zM31 670h5v1h-5zM33 671h5v1h-5zM35 672h5v1h-5zM37 673h5v1h-5zM39 674h5v1h-5zM41 675h5v1h-5zM43 676h5v1h-5zM45 677h5v1h-5zM47 678h4v1h-4zM49 679h4v1h-4zM50 680h4v1h-4zM52 681h4v1h-4zM53 682h4v1h-4zM55 683h3v1h-3zM56 684h4v1h-4zM57 685h4v1h-4zM59 686h4v1h-4zM60 687h5v1h-5zM62 688h4v1h-4zM64 689h4v1h-4zM65 690h5v1h-5zM67 691h4v1h-4zM69 692h4v1h-4zM70 693h5v1h-5zM72 694h4v1h-4zM74 695h4v1h-4zM75 696h5v1h-5zM77 697h4v1h-4zM79 698h4v1h-4zM80 699h5v1h-5zM82 700h4v1h-4zM84 701h4v1h-4zM85 702h5v1h-5zM87 703h5v1h-5zM89 704h5v1h-5zM91 705h5v1h-5zM93 706h5v1h-5zM95 707h5v1h-5zM97 708h5v1h-5zM99 709h5v1h-5zM101 710h5v1h-5zM103 711h5v1h-5zM105 712h5v1h-5zM107 713h5v1h-5zM109 714h5v1h-5zM111 715h6v1h-6zM113 716h6v1h-6zM116 717h6v1h-6zM118 718h8v1h-8zM121 719h8v1h-8zM125 720h11v1h-11zM128 721h15v1h-15zM135 722h13v1h-13zM142 723h14v1h-14zM147 724h16v1h-16zM155 725h13v1h-13zM162 726h10v1h-10zM167 727h7v1h-7zM171 728h6v1h-6zM173 729h6v1h-6zM176 730h6v1h-6zM178 731h6v1h-6zM181 732h6v1h-6zM183 733h6v1h-6zM186 734h6v1h-6zM188 735h6v1h-6zM191 736h6v1h-6zM193 737h6v1h-6zM196 738h6v1h-6zM198 739h6v1h-6zM201 740h6v1h-6zM203 741h6v1h-6zM206 742h6v1h-6zM208 743h8v1h-8zM211 744h8v1h-8zM215 745h7v1h-7zM218 746h8v1h-8zM221 747h8v1h-8zM225 748h7v1h-7zM228 749h7v1h-7zM231 750h10v1h-10zM234 751h13v1h-13zM240 752h11v1h-11zM246 753h9v1h-9zM250 754h9v1h-9zM254 755h9v1h-9zM258 756h9v1h-9zM262 757h9v1h-9zM266 758h9v1h-9zM270 759h11v1h-11zM274 760h23v1h-23zM280 761h9v1h-9zM288 759h14v1h-14zM296 758h9v1h-9zM301 757h6v1h-6zM304 756h5v1h-5zM306 755h5v1h-5zM308 754h5v1h-5zM310 753h4v1h-4zM312 752h4v1h-4zM313 751h4v1h-4zM315 750h4v1h-4zM316 749h4v1h-4zM318 748h3v1h-3zM319 747h3v1h-3zM320 746h3v1h-3zM321 745h4v1h-4zM322 744h4v1h-4zM324 743h3v1h-3zM325 742h3v1h-3zM326 741h3v1h-3zM327 740h3v1h-3zM328 739h3v1h-3zM329 738h3v1h-3zM330 737h3v1h-3zM331 735h3v1h-3zM331 736h2v1h-2zM332 734h3v1h-3zM333 733h3v1h-3zM334 732h3v1h-3zM335 731h3v1h-3zM336 730h3v1h-3zM337 728h3v1h-3zM337 729h2v1h-2zM338 727h3v1h-3zM339 726h3v1h-3zM340 725h3v1h-3zM341 723h3v1h-3zM341 724h2v1h-2zM342 722h3v1h-3zM343 721h3v1h-3zM344 719h3v1h-3zM344 720h2v1h-2zM345 718h3v1h-3zM346 717h3v1h-3zM347 715h3v1h-3zM347 716h2v1h-2zM348 714h3v1h-3zM349 713h3v1h-3zM350 711h3v1h-3zM350 712h2v1h-2zM351 710h3v1h-3zM352 708h3v1h-3zM352 709h2v1h-2zM353 707h3v1h-3zM354 706h3v1h-3zM355 704h3v1h-3zM355 705h2v1h-2zM356 703h3v1h-3zM357 702h3v1h-3zM358 700h3v1h-3zM358 701h2v1h-2zM359 699h3v1h-3zM360 698h3v1h-3zM361 697h3v1h-3zM362 696h3v1h-3zM363 694h3v1h-3zM363 695h2v1h-2zM364 693h3v1h-3zM365 692h3v1h-3zM366 691h3v1h-3zM367 690h3v1h-3zM368 689h3v1h-3zM369 688h3v1h-3zM370 687h3v1h-3zM371 686h3v1h-3zM372 685h3v1h-3zM373 684h3v1h-3zM374 683h3v1h-3zM375 682h3v1h-3zM376 681h3v1h-3zM377 680h4v1h-4zM378 679h4v1h-4zM380 678h3v1h-3zM381 677h3v1h-3zM382 676h3v1h-3zM383 675h4v1h-4zM384 674h5v1h-5zM386 673h4v1h-4zM388 672h4v1h-4zM389 671h5v1h-5zM391 670h5v1h-5zM393 669h5v1h-5zM395 668h5v1h-5zM397 667h5v1h-5zM399 666h5v1h-5zM401 665h5v1h-5zM403 664h5v1h-5zM405 663h5v1h-5zM407 662h6v1h-6zM409 661h6v1h-6zM412 660h7v1h-7zM414 659h9v1h-9zM418 658h11v1h-11zM422 657h15v1h-15zM428 656h19v1h-19zM436 655h25v1h-25zM446 654h31v1h-31zM460 653h31v1h-31zM476 652h52v1h-52zM490 651h29v1h-29zM518 653h16v1h-16zM527 654h16v1h-16zM533 655h17v1h-17zM542 656h11v1h-11zM549 657h6v1h-6zM552 658h6v1h-6zM554 659h7v1h-7zM557 660h6v1h-6zM560 661h6v1h-6zM562 662h6v1h-6zM565 663h5v1h-5zM567 664h5v1h-5zM569 665h5v1h-5zM571 666h6v1h-6zM573 667h6v1h-6zM576 668h6v1h-6zM578 669h6v1h-6zM581 670h5v1h-5zM583 671h5v1h-5zM585 672h6v1h-6zM587 673h8v1h-8zM590 674h8v1h-8zM594 675h7v1h-7zM597 676h6v1h-6zM600 677h7v1h-7zM602 678h9v1h-9zM606 679h8v1h-8zM610 680h7v1h-7zM613 681h6v1h-6zM616 682h9v1h-9zM618 683h15v1h-15zM624 684h15v1h-15zM632 685h11v1h-11zM638 686h11v1h-11zM642 687h12v1h-12zM648 688h9v1h-9zM653 689h10v1h-10zM656 690h12v1h-12zM662 691h9v1h-9zM667 692h6v1h-6zM670 693h6v1h-6zM672 694h6v1h-6zM675 695h5v1h-5zM677 696h5v1h-5zM679 697h8v1h-8zM681 698h11v1h-11zM686 699h8v1h-8zM691 700h5v1h-5zM693 701h5v1h-5zM695 702h6v1h-6zM697 703h8v1h-8zM700 704h8v1h-8zM704 705h7v1h-7zM707 706h6v1h-6zM710 707h6v1h-6zM712 708h7v1h-7zM715 709h6v1h-6zM718 710h9v1h-9zM720 711h37v1h-37zM726 712h27v1h-27zM752 710h8v1h-8zM756 709h7v1h-7zM759 708h6v1h-6zM762 707h6v1h-6zM764 706h7v1h-7zM767 705h6v1h-6zM770 704h6v1h-6zM772 703h7v1h-7zM775 702h6v1h-6zM778 701h5v1h-5zM780 700h5v1h-5zM782 699h5v1h-5zM784 698h4v1h-4zM786 697h4v1h-4zM787 696h5v1h-5zM789 695h6v1h-6zM791 694h6v1h-6zM794 693h6v1h-6zM796 692h7v1h-7zM799 691h6v1h-6zM802 690h7v1h-7zM804 689h9v1h-9zM808 688h10v1h-10zM812 687h13v1h-13zM817 686h5v1h-5zM821 688h18v1h-18zM824 689h19v1h-19zM838 690h8v1h-8zM842 691h6v1h-6zM845 692h5v1h-5zM847 693h5v1h-5zM849 694h5v1h-5zM851 695h6v1h-6zM853 696h6v1h-6zM856 697h6v1h-6zM858 698h7v1h-7zM861 699h6v1h-6zM864 700h7v1h-7zM866 701h9v1h-9zM870 702h11v1h-11zM874 703h33v1h-33zM880 704h23v1h-23zM902 702h9v1h-9zM906 701h9v1h-9zM910 700h8v1h-8zM914 699h7v1h-7zM917 698h6v1h-6zM920 697h6v1h-6zM922 696h7v1h-7zM925 695h6v1h-6zM928 694h6v1h-6zM930 693h7v1h-7zM933 692h6v1h-6zM936 691h6v1h-6zM938 690h7v1h-7zM941 689h6v1h-6zM944 688h6v1h-6zM946 687h6v1h-6zM949 686h5v1h-5zM951 685h5v1h-5zM953 684h5v1h-5zM955 683h6v1h-6zM957 682h6v1h-6zM960 681h6v1h-6zM962 680h7v1h-7zM965 679h6v1h-6zM968 678h9v1h-9zM970 677h13v1h-13zM976 676h11v1h-11zM982 675h15v1h-15zM986 674h24v1h-24zM996 673h34v1h-34zM1009 672h40v1h-40zM1029 671h26v1h-26zM1048 670h11v1h-11zM1054 669h9v1h-9zM1058 668h9v1h-9zM1062 667h8v1h-8zM1066 666h6v1h-6zM1069 665h5v1h-5zM1071 664h5v1h-5zM1073 663h8v1h-8zM1075 662h11v1h-11zM1080 661h9v1h-9zM1085 660h6v1h-6zM1088 659h6v1h-6zM1090 658h7v1h-7zM1093 657h6v1h-6zM1096 656h7v1h-7zM1098 655h9v1h-9zM1102 654h9v1h-9zM1106 653h9v1h-9zM1110 652h9v1h-9zM1114 651h9v1h-9zM1118 650h11v1h-11zM1122 649h15v1h-15zM1128 648h15v1h-15zM1136 647h11v1h-11zM1142 646h11v1h-11zM1146 645h13v1h-13zM1152 644h11v1h-11zM1158 643h11v1h-11zM1162 642h13v1h-13zM1168 641h11v1h-11zM1174 640h32v1h-32zM1178 639h15v1h-15zM1192 641h16v1h-16zM1205 642h5v1h-5zM1207 643h5v1h-5zM1209 644h6v1h-6zM1211 645h8v1h-8zM1214 646h8v1h-8zM1218 647h7v1h-7zM1221 648h6v1h-6zM1224 649h6v1h-6zM1226 650h7v1h-7zM1229 651h6v1h-6zM1232 652h6v1h-6zM1234 653h6v1h-6zM1237 654h5v1h-5zM1239 655h5v1h-5zM1241 656h5v1h-5zM1243 657h5v1h-5zM1245 658h5v1h-5zM1247 659h5v1h-5zM1249 660h5v1h-5zM1251 661h6v1h-6zM1253 662h6v1h-6zM1256 663h7v1h-7zM1258 664h9v1h-9zM1262 665h9v1h-9zM1266 666h9v1h-9zM1270 667h15v1h-15zM1274 668h35v1h-35zM1284 669h25v1h-25z" fill="#ff0000" shape-rendering="crispEdges"/>
<text x="0.5" y="640" font-size="10" fill="#000" stroke="#000" stroke-width="0.3" textLength="117.5" lengthAdjust="spacingAndGlyphs" >MACD(12,26,9) 32.14 31.04</text>
<g shape-rendering="crispEdges" stroke="#000" stroke-width="1" stroke-dasharray="3 3">
<line x1="3" y1="814.5" x2="1655" y2="814.5"/>
<line x1="3" y1="854.5" x2="1655" y2="854.5"/>
<line x1="3" y1="902.5" x2="1655" y2="902.5"/>
</g>
<path d="M0 860h1v1h-1zM0 861h3v1h-3zM0 862h14v1h-14zM2 863h12v1h-12zM12 864h3v1h-3zM13 865h2v1h-2zM13 866h3v1h-3zM14 867h2v1h-2zM14 868h3v1h-3zM15 869h2v2h-2zM15 871h3v1h-3zM16 872h2v1h-2zM16 873h3v1h-3zM17 874h2v1h-2zM17 875h3v1h-3zM18 876h2v1h-2zM18 877h7v1h-7zM19 878h4v1h-4zM19 879h2v1h-2zM22 876h4v1h-4zM24 875h4v1h-4zM25 874h5v1h-5zM27 873h6v1h-6zM29 872h6v1h-6zM32 871h9v1h-9zM34 870h12v1h-12zM40 869h5v1h-5zM44 871h2v1h-2zM44 872h3v1h-3zM45 873h2v1h-2zM45 874h3v1h-3zM46 875h2v1h-2zM46 876h3v1h-3zM47 877h3v1h-3zM48 878h2v1h-2zM48 879h3v1h-3zM49 880h2v1h-2zM49 881h3v1h-3zM50 882h2v1h-2zM50 883h20v1h-20zM51 884h22v1h-22zM69 885h6v1h-6zM72 886h7v1h-7zM74 887h9v1h-9zM78 888h8v1h-8zM82 889h3v1h-3zM84 887h3v1h-3zM85 886h3v1h-3zM86 885h3v1h-3zM87 884h3v1h-3zM88 883h3v1h-3zM89 882h3v1h-3zM90 881h3v1h-3zM91 880h16v1h-16zM92 879h11v1h-11zM102 881h9v1h-9zM106 882h9v1h-9zM110 883h9v1h-9zM114 884h18v1h-18zM118 885h12v1h-12zM129 883h13v1h-13zM131 882h10v1h-10zM140 884h3v1h-3zM141 885h3v1h-3zM142 886h3v1h-3zM143 887h3v1h-3zM144 888h3v1h-3zM145 889h3v1h-3zM146 890h12v1h-12zM147 891h6v1h-6zM152 889h5v1h-5zM156 891h3v1h-3zM157 892h3v1h-3zM158 893h3v1h-3zM159 894h3v1h-3zM160 895h3v1h-3zM161 896h3v1h-3zM162 897h3v1h-3zM163 898h26v1h-26zM164 899h27v1h-27zM188 900h5v1h-5zM190 901h4v1h-4zM192 902h7v1h-7zM193 903h5v1h-5zM195 904h2v1h-2zM197 900h3v1h-3zM197 901h2v1h-2zM198 899h3v1h-3zM199 898h3v1h-3zM200 897h3v1h-3zM201 895h3v1h-3zM201 896h2v1h-2zM202 894h3v1h-3zM203 893h3v1h-3zM204 892h3v1h-3zM205 890h3v1h-3zM205 891h2v1h-2zM206 889h3v1h-3zM207 888h3v1h-3zM208 887h3v1h-3zM209 885h3v1h-3zM209 886h2v1h-2zM210 884h12v1h-12zM211 883h10v1h-10zM220 885h3v1h-3zM221 886h4v1h-4zM222 887h4v1h-4zM224 888h3v1h-3zM225 889h6v1h-6zM226 890h4v1h-4zM227 891h2v1h-2zM229 888h3v1h-3zM230 887h3v1h-3zM231 886h3v1h-3zM232 885h3v1h-3zM233 884h6v1h-6zM234 883h4v1h-4zM235 882h2v1h-2zM237 885h4v1h-4zM238 886h4v1h-4zM240 887h3v1h-3zM241 888h3v1h-3zM242 889h5v1h-5zM243 890h8v1h-8zM246 891h8v1h-8zM250 892h6v1h-6zM253 893h5v1h-5zM255 894h5v1h-5zM257 895h5v1h-5zM259 896h5v1h-5zM261 897h5v1h-5zM263 898h7v1h-7zM265 899h5v1h-5zM267 900h2v1h-2zM268 897h3v1h-3zM269 895h3v1h-3zM269 896h2v1h-2zM270 894h3v1h-3zM271 892h3v1h-3zM271 893h2v1h-2zM272 891h3v1h-3zM273 889h3v1h-3zM273 890h2v1h-2zM274 887h3v1h-3zM274 888h2v1h-2zM275 885h3v1h-3zM275 886h2v1h-2zM276 883h3v1h-3zM276 884h2v1h-2zM277 880h3v1h-3zM277 881h2v2h-2zM278 877h3v1h-3zM278 878h2v2h-2zM279 875h3v1h-3zM279 876h2v1h-2zM280 872h3v1h-3zM280 873h2v2h-2zM281 869h3v1h-3zM281 870h2v2h-2zM282 867h3v1h-3zM282 868h2v1h-2zM283 865h3v1h-3zM283 866h2v1h-2zM284 863h3v1h-3zM284 864h2v1h-2zM285 861h3v1h-3zM285 862h2v1h-2zM286 860h3v1h-3zM287 858h3v1h-3zM287 859h2v1h-2zM288 857h3v1h-3zM289 855h3v1h-3zM289 856h2v1h-2zM290 853h5v1h-5zM290 854h2v1h-2zM291 852h8v1h-8zM294 851h9v1h-9zM298 850h3v1h-3zM300 852h5v1h-5zM302 853h4v1h-4zM304 854h9v1h-9zM305 855h6v1h-6zM307 856h2v1h-2zM310 853h4v1h-4zM312 852h4v1h-4zM313 851h16v1h-16zM315 850h11v1h-11zM325 852h6v1h-6zM328 853h10v1h-10zM330 854h6v1h-6zM335 852h5v1h-5zM337 851h4v1h-4zM339 850h4v1h-4zM340 849h5v1h-5zM342 848h4v1h-4zM344 847h4v1h-4zM345 846h5v1h-5zM347 845h5v1h-5zM349 844h5v1h-5zM351 843h24v1h-24zM353 842h5v1h-5zM357 844h20v1h-20zM374 845h5v1h-5zM376 846h4v1h-4zM378 847h4v1h-4zM379 848h4v1h-4zM381 849h4v1h-4zM382 850h5v1h-5zM384 851h4v1h-4zM386 852h4v1h-4zM387 853h7v1h-7zM389 854h12v1h-12zM393 855h6v1h-6zM398 853h5v1h-5zM400 852h5v1h-5zM402 851h16v1h-16zM404 850h20v1h-20zM417 849h10v1h-10zM423 848h6v1h-6zM426 847h6v1h-6zM428 846h7v1h-7zM431 845h6v1h-6zM434 844h14v1h-14zM436 843h10v1h-10zM445 845h5v1h-5zM447 846h15v1h-15zM449 847h15v1h-15zM461 848h5v1h-5zM463 849h5v1h-5zM465 850h7v1h-7zM467 851h3v1h-3zM469 849h6v1h-6zM471 848h6v1h-6zM474 847h5v1h-5zM476 846h5v1h-5zM478 845h5v1h-5zM480 844h5v1h-5zM482 843h5v1h-5zM484 842h7v1h-7zM486 841h9v1h-9zM490 840h3v1h-3zM492 842h4v1h-4zM494 843h3v1h-3zM495 844h4v1h-4zM496 845h4v1h-4zM498 846h4v1h-4zM499 847h6v1h-6zM501 848h6v1h-6zM504 849h5v1h-5zM506 850h5v1h-5zM508 851h4v1h-4zM510 852h3v1h-3zM511 853h4v1h-4zM512 854h14v1h-14zM514 855h15v1h-15zM525 856h12v1h-12zM528 857h7v1h-7zM534 855h4v1h-4zM536 854h6v1h-6zM537 853h5v1h-5zM539 852h2v1h-2zM540 855h3v1h-3zM541 856h3v1h-3zM542 857h2v1h-2zM542 858h3v1h-3zM543 859h3v1h-3zM544 860h2v1h-2zM544 861h3v1h-3zM545 862h3v1h-3zM546 863h2v1h-2zM546 864h4v1h-4zM547 865h6v1h-6zM549 866h6v1h-6zM552 867h15v1h-15zM554 868h11v1h-11zM564 866h5v1h-5zM566 865h4v1h-4zM568 864h4v1h-4zM569 863h13v1h-13zM571 862h21v1h-21zM581 861h13v1h-13zM591 860h5v1h-5zM593 859h14v1h-14zM595 858h11v1h-11zM605 860h3v1h-3zM606 861h3v1h-3zM607 862h2v1h-2zM607 863h3v1h-3zM608 864h3v1h-3zM609 865h3v1h-3zM610 866h7v1h-7zM611 867h12v1h-12zM616 868h5v1h-5zM620 866h5v1h-5zM622 865h5v1h-5zM624 864h7v1h-7zM626 863h3v1h-3zM628 865h5v1h-5zM630 866h4v1h-4zM632 867h4v1h-4zM633 868h4v1h-4zM635 869h3v1h-3zM636 870h4v1h-4zM637 871h4v1h-4zM639 872h4v1h-4zM640 873h31v1h-31zM642 874h5v1h-5zM646 872h24v1h-24zM669 874h3v1h-3zM670 875h3v1h-3zM671 876h3v1h-3zM672 877h2v1h-2zM672 878h3v1h-3zM673 879h3v1h-3zM674 880h3v1h-3zM675 881h4v1h-4zM676 882h7v1h-7zM678 883h8v1h-8zM682 884h3v1h-3zM684 881h3v1h-3zM684 882h2v1h-2zM685 880h3v1h-3zM686 878h3v1h-3zM686 879h2v1h-2zM687 877h3v1h-3zM688 875h3v1h-3zM688 876h2v1h-2zM689 874h3v1h-3zM690 872h5v1h-5zM690 873h7v1h-7zM691 871h2v1h-2zM694 874h4v1h-4zM696 875h4v1h-4zM697 876h8v1h-8zM699 877h20v1h-20zM704 878h14v1h-14zM717 876h3v1h-3zM718 875h4v1h-4zM719 874h4v1h-4zM721 873h3v1h-3zM722 872h3v1h-3zM723 871h4v1h-4zM724 870h7v1h-7zM726 869h7v1h-7zM730 868h4v1h-4zM732 867h3v1h-3zM733 866h3v1h-3zM734 865h3v1h-3zM735 863h3v1h-3zM735 864h2v1h-2zM736 862h3v1h-3zM737 861h3v1h-3zM738 860h3v1h-3zM739 859h3v1h-3zM740 858h3v1h-3zM741 856h3v1h-3zM741 857h2v1h-2zM742 855h3v1h-3zM743 854h3v1h-3zM744 853h3v1h-3zM745 852h3v1h-3zM746 850h3v1h-3zM746 851h2v1h-2zM747 849h18v1h-18zM748 848h5v1h-5zM752 850h15v1h-15zM764 851h4v1h-4zM766 852h4v1h-4zM767 853h4v1h-4zM769 854h4v1h-4zM770 855h14v1h-14zM772 856h10v1h-10zM781 854h5v1h-5zM783 853h9v1h-9zM785 852h6v1h-6zM787 851h2v1h-2zM790 854h3v1h-3zM791 855h4v1h-4zM792 856h4v1h-4zM794 857h3v1h-3zM795 858h3v1h-3zM796 859h2v1h-2zM796 860h3v1h-3zM797 861h3v1h-3zM798 862h2v1h-2zM798 863h3v1h-3zM799 864h2v1h-2zM799 865h3v1h-3zM800 866h3v1h-3zM801 867h2v1h-2zM801 868h3v1h-3zM802 869h3v1h-3zM803 870h2v1h-2zM803 871h10v1h-10zM804 872h10v1h-10zM812 873h3v1h-3zM813 874h3v1h-3zM814 875h3v1h-3zM815 876h3v1h-3zM816 877h3v1h-3zM817 878h3v1h-3zM818 879h6v1h-6zM819 880h3v1h-3zM821 878h5v1h-5zM823 877h5v1h-5zM825 876h4v1h-4zM827 875h3v1h-3zM828 874h3v1h-3zM829 873h3v1h-3zM830 872h3v1h-3zM831 870h3v1h-3zM831 871h2v1h-2zM832 869h3v1h-3zM833 868h3v1h-3zM834 867h12v1h-12zM835 866h6v1h-6zM840 868h8v1h-8zM845 869h5v1h-5zM847 870h5v1h-5zM849 871h5v1h-5zM851 872h5v1h-5zM853 873h5v1h-5zM855 874h7v1h-7zM857 875h5v1h-5zM859 876h2v1h-2zM860 873h3v1h-3zM861 872h3v1h-3zM862 871h3v1h-3zM863 869h3v1h-3zM863 870h2v1h-2zM864 868h3v1h-3zM865 867h3v1h-3zM866 865h7v1h-7zM866 866h2v1h-2zM867 864h19v1h-19zM872 863h16v1h-16zM885 862h5v1h-5zM887 861h5v1h-5zM889 860h4v1h-4zM891 859h3v1h-3zM892 858h3v1h-3zM893 857h3v1h-3zM894 856h3v1h-3zM895 855h3v1h-3zM896 854h3v1h-3zM897 853h3v1h-3zM898 852h4v1h-4zM899 851h5v1h-5zM901 850h5v1h-5zM903 849h5v1h-5zM905 848h8v1h-8zM907 847h3v1h-3zM909 849h6v1h-6zM912 850h14v1h-14zM914 851h7v1h-7zM920 849h5v1h-5zM924 851h3v1h-3zM925 852h3v1h-3zM926 853h4v1h-4zM927 854h4v1h-4zM929 855h3v1h-3zM930 856h3v1h-3zM931 857h11v1h-11zM932 858h9v1h-9zM940 856h3v1h-3zM941 855h3v1h-3zM942 854h3v1h-3zM943 853h3v1h-3zM944 852h3v1h-3zM945 851h3v1h-3zM946 850h5v1h-5zM947 849h8v1h-8zM950 848h9v1h-9zM954 847h3v1h-3zM956 849h4v1h-4zM958 850h3v1h-3zM959 851h4v1h-4zM960 852h4v1h-4zM962 853h9v1h-9zM963 854h4v1h-4zM966 852h9v1h-9zM970 851h3v1h-3zM972 853h5v1h-5zM974 854h4v1h-4zM976 855h4v1h-4zM977 856h18v1h-18zM979 857h12v1h-12zM990 855h13v1h-13zM994 854h5v1h-5zM998 856h18v1h-18zM1002 857h17v1h-17zM1015 858h7v1h-7zM1018 859h3v1h-3zM1020 857h3v1h-3zM1021 855h3v1h-3zM1021 856h2v1h-2zM1022 854h3v1h-3zM1023 853h3v1h-3zM1024 852h3v1h-3zM1025 851h3v1h-3zM1026 849h3v1h-3zM1026 850h2v1h-2zM1027 848h10v1h-10zM1028 847h10v1h-10zM1036 846h3v1h-3zM1037 845h3v1h-3zM1038 844h4v1h-4zM1039 843h4v1h-4zM1041 842h3v1h-3zM1042 841h3v1h-3zM1043 840h10v1h-10zM1044 839h17v1h-17zM1052 838h11v1h-11zM1060 837h4v1h-4zM1062 836h3v1h-3zM1063 835h4v1h-4zM1064 834h7v1h-7zM1066 833h4v1h-4zM1067 832h2v1h-2zM1069 835h3v1h-3zM1070 836h4v1h-4zM1071 837h4v1h-4zM1073 838h3v1h-3zM1074 839h3v1h-3zM1075 840h10v1h-10zM1076 841h10v1h-10zM1084 842h3v1h-3zM1085 843h3v1h-3zM1086 844h3v1h-3zM1087 845h3v1h-3zM1088 846h3v1h-3zM1089 847h3v1h-3zM1090 848h9v1h-9zM1091 849h4v1h-4zM1094 847h7v1h-7zM1098 846h5v1h-5zM1100 845h5v1h-5zM1102 844h4v1h-4zM1104 843h4v1h-4zM1105 842h4v1h-4zM1107 841h3v1h-3zM1108 840h3v1h-3zM1109 839h4v1h-4zM1110 838h4v1h-4zM1112 837h3v1h-3zM1113 836h3v1h-3zM1114 835h7v1h-7zM1115 834h3v1h-3zM1117 836h6v1h-6zM1120 837h6v1h-6zM1122 838h7v1h-7zM1125 839h6v1h-6zM1128 840h6v1h-6zM1130 841h3v1h-3zM1132 839h4v1h-4zM1133 838h4v1h-4zM1135 837h3v1h-3zM1136 836h4v1h-4zM1137 835h4v1h-4zM1139 834h13v1h-13zM1140 833h20v1h-20zM1151 832h5v1h-5zM1155 834h8v1h-8zM1159 835h8v1h-8zM1162 836h9v1h-9zM1166 837h15v1h-15zM1170 838h11v1h-11zM1179 839h3v1h-3zM1180 840h2v1h-2zM1180 841h3v1h-3zM1181 842h2v1h-2zM1181 843h3v1h-3zM1182 844h2v1h-2zM1182 845h3v1h-3zM1183 846h2v1h-2zM1183 847h3v1h-3zM1184 848h2v1h-2zM1184 849h3v1h-3zM1185 850h2v1h-2zM1185 851h3v1h-3zM1186 852h2v1h-2zM1186 853h3v1h-3zM1187 854h2v1h-2zM1187 855h4v1h-4zM1188 856h4v1h-4zM1190 857h3v1h-3zM1191 858h4v1h-4zM1192 859h4v1h-4zM1194 860h7v1h-7zM1195 861h16v1h-16zM1200 862h7v1h-7zM1206 860h7v1h-7zM1210 859h4v1h-4zM1212 858h3v1h-3zM1213 857h3v1h-3zM1214 856h3v1h-3zM1215 854h3v1h-3zM1215 855h2v1h-2zM1216 853h3v1h-3zM1217 852h3v1h-3zM1218 851h12v1h-12zM1219 850h6v1h-6zM1224 852h9v1h-9zM1229 853h6v1h-6zM1232 854h5v1h-5zM1234 855h4v1h-4zM1236 856h3v1h-3zM1237 857h3v1h-3zM1238 858h3v1h-3zM1239 859h2v1h-2zM1239 860h3v1h-3zM1240 861h3v1h-3zM1241 862h8v1h-8zM1242 863h5v1h-5zM1243 864h2v1h-2zM1246 861h4v1h-4zM1248 860h4v1h-4zM1249 859h6v1h-6zM1251 858h8v1h-8zM1254 857h11v1h-11zM1258 856h13v1h-13zM1264 855h11v1h-11zM1270 854h7v1h-7zM1274 853h4v1h-4zM1276 852h3v1h-3zM1277 851h4v1h-4zM1278 850h4v1h-4zM1280 849h3v1h-3zM1281 848h3v1h-3zM1282 847h5v1h-5zM1283 846h8v1h-8zM1286 845h8v1h-8zM1290 844h3v1h-3zM1292 846h3v1h-3zM1293 847h4v1h-4zM1294 848h4v1h-4zM1296 849h3v1h-3zM1297 850h3v1h-3zM1298 851h3v1h-3zM1299 852h3v1h-3zM1300 853h3v1h-3zM1301 854h3v1h-3zM1302 855h3v1h-3zM1303 856h3v1h-3zM1304 857h3v1h-3zM1305 858h3v1h-3zM1306 859h3v1h-3zM1307 860h2v1h-2z" fill="#1e90ff" shape-rendering="crispEdges"/>
<text x="1" y="798" font-size="10" fill="#000" stroke="#000" stroke-width="0.3" textLength="67" lengthAdjust="spacingAndGlyphs" >RSI(15) 46.4593</text>
<g shape-rendering="crispEdges" fill="#000">
<rect x="0" y="22" width="1656" height="1"/>
<rect x="1655" y="22" width="1" height="604"/>
<rect x="0" y="625" width="1656" height="1"/>
<rect x="0" y="627" width="1656" height="1"/>
<rect x="1655" y="627" width="1" height="157"/>
<rect x="0" y="783" width="1656" height="1"/>
<rect x="0" y="785" width="1656" height="1"/>
<rect x="1655" y="785" width="1" height="139"/>
<rect x="0" y="923" width="1656" height="1"/>
<rect x="1656" y="28" width="2" height="1"/>
<rect x="1656" y="61" width="2" height="1"/>
<rect x="1656" y="94" width="2" height="1"/>
<rect x="1656" y="127" width="2" height="1"/>
<rect x="1656" y="160" width="2" height="1"/>
<rect x="1656" y="193" width="2" height="1"/>
<rect x="1656" y="226" width="2" height="1"/>
<rect x="1656" y="259" width="2" height="1"/>
<rect x="1656" y="292" width="2" height="1"/>
<rect x="1656" y="325" width="2" height="1"/>
<rect x="1656" y="358" width="2" height="1"/>
<rect x="1656" y="391" width="2" height="1"/>
<rect x="1656" y="424" width="2" height="1"/>
<rect x="1656" y="457" width="2" height="1"/>
<rect x="1656" y="490" width="2" height="1"/>
<rect x="1656" y="523" width="2" height="1"/>
<rect x="1656" y="556" width="2" height="1"/>
<rect x="1656" y="589" width="2" height="1"/>
<rect x="1656" y="622" width="2" height="1"/>
<rect x="1656" y="629" width="1" height="1"/>
<rect x="1656" y="672" width="1" height="1"/>
<rect x="1656" y="782" width="1" height="1"/>
<rect x="1656" y="787" width="1" height="1"/>
<rect x="1656" y="922" width="1" height="1"/>
<rect x="60" y="924" width="1" height="3"/>
<rect x="124" y="924" width="1" height="3"/>
<rect x="188" y="924" width="1" height="3"/>
<rect x="252" y="924" width="1" height="3"/>
<rect x="316" y="924" width="1" height="3"/>
<rect x="380" y="924" width="1" height="3"/>
<rect x="444" y="924" width="1" height="3"/>
<rect x="508" y="924" width="1" height="3"/>
<rect x="572" y="924" width="1" height="3"/>
<rect x="636" y="924" width="1" height="3"/>
<rect x="700" y="924" width="1" height="3"/>
<rect x="764" y="924" width="1" height="3"/>
<rect x="828" y="924" width="1" height="3"/>
<rect x="892" y="924" width="1" height="3"/>
<rect x="956" y="924" width="1" height="3"/>
<rect x="1020" y="924" width="1" height="3"/>
<rect x="1084" y="924" width="1" height="3"/>
<rect x="1148" y="924" width="1" height="3"/>
<rect x="1212" y="924" width="1" height="3"/>
<rect x="1276" y="924" width="1" height="3"/>
<polygon points="1317,23 1327,23 1322,28"/>
</g>
<text x="1661" y="32" font-size="10" fill="#000" stroke="#000" stroke-width="0.3" textLength="33" lengthAdjust="spacingAndGlyphs" >25005.5</text>
<text x="1661" y="65" font-size="10" fill="#000" stroke="#000" stroke-width="0.3" textLength="33" lengthAdjust="spacingAndGlyphs" >24626.0</text>
<text x="1661" y="98" font-size="10" fill="#000" stroke="#000" stroke-width="0.3" textLength="33" lengthAdjust="spacingAndGlyphs" >24235.0</text>
<text x="1661" y="131" font-size="10" fill="#000" stroke="#000" stroke-width="0.3" textLength="33" lengthAdjust="spacingAndGlyphs" >23855.5</text>
<text x="1661" y="164" font-size="10" fill="#000" stroke="#000" stroke-width="0.3" textLength="33" lengthAdjust="spacingAndGlyphs" >23476.0</text>
<text x="1661" y="197" font-size="10" fill="#000" stroke="#000" stroke-width="0.3" textLength="33" lengthAdjust="spacingAndGlyphs" >23085.0</text>
<text x="1661" y="230" font-size="10" fill="#000" stroke="#000" stroke-width="0.3" textLength="33" lengthAdjust="spacingAndGlyphs" >22705.5</text>
<text x="1661" y="263" font-size="10" fill="#000" stroke="#000" stroke-width="0.3" textLength="33" lengthAdjust="spacingAndGlyphs" >22314.5</text>
<text x="1661" y="296" font-size="10" fill="#000" stroke="#000" stroke-width="0.3" textLength="33" lengthAdjust="spacingAndGlyphs" >21935.0</text>
<text x="1661" y="329" font-size="10" fill="#000" stroke="#000" stroke-width="0.3" textLength="33" lengthAdjust="spacingAndGlyphs" >21555.5</text>
<text x="1661" y="362" font-size="10" fill="#000" stroke="#000" stroke-width="0.3" textLength="33" lengthAdjust="spacingAndGlyphs" >21164.5</text>
<text x="1661" y="395" font-size="10" fill="#000" stroke="#000" stroke-width="0.3" textLength="33" lengthAdjust="spacingAndGlyphs" >20785.0</text>
<text x="1661" y="428" font-size="10" fill="#000" stroke="#000" stroke-width="0.3" textLength="33" lengthAdjust="spacingAndGlyphs" >20405.5</text>
<text x="1661" y="461" font-size="10" fill="#000" stroke="#000" stroke-width="0.3" textLength="33" lengthAdjust="spacingAndGlyphs" >20014.5</text>
<text x="1661" y="494" font-size="10" fill="#000" stroke="#000" stroke-width="0.3" textLength="33" lengthAdjust="spacingAndGlyphs" >19635.0</text>
<text x="1661" y="527" font-size="10" fill="#000" stroke="#000" stroke-width="0.3" textLength="33" lengthAdjust="spacingAndGlyphs" >19255.5</text>
<text x="1661" y="560" font-size="10" fill="#000" stroke="#000" stroke-width="0.3" textLength="33" lengthAdjust="spacingAndGlyphs" >18864.5</text>
<text x="1661" y="593" font-size="10" fill="#000" stroke="#000" stroke-width="0.3" textLength="33" lengthAdjust="spacingAndGlyphs" >18485.0</text>
<text x="1661" y="626" font-size="10" fill="#000" stroke="#000" stroke-width="0.3" textLength="33" lengthAdjust="spacingAndGlyphs" >18105.5</text>
<text x="1658.7" y="638" font-size="10" fill="#000" stroke="#000" stroke-width="0.3" textLength="23" lengthAdjust="spacingAndGlyphs" >440.4</text>
<text x="1658.7" y="676" font-size="10" fill="#000" stroke="#000" stroke-width="0.3" textLength="18" lengthAdjust="spacingAndGlyphs" >0.00</text>
<text x="1658.7" y="780" font-size="10" fill="#000" stroke="#000" stroke-width="0.3" textLength="36" lengthAdjust="spacingAndGlyphs" >-1102.21</text>
<text x="1658.7" y="796" font-size="10" fill="#000" stroke="#000" stroke-width="0.3" textLength="15" lengthAdjust="spacingAndGlyphs" >100</text>
<text x="1657.5" y="818" font-size="10" fill="#000" stroke="#000" stroke-width="0.3" textLength="10" lengthAdjust="spacingAndGlyphs" >80</text>
<text x="1657.5" y="858" font-size="10" fill="#000" stroke="#000" stroke-width="0.3" textLength="10" lengthAdjust="spacingAndGlyphs" >50</text>
<text x="1657.5" y="906" font-size="10" fill="#000" stroke="#000" stroke-width="0.3" textLength="10" lengthAdjust="spacingAndGlyphs" >15</text>
<text x="1658.7" y="920" font-size="10" fill="#000" stroke="#000" stroke-width="0.3" textLength="5" lengthAdjust="spacingAndGlyphs" >0</text>
<g shape-rendering="crispEdges">
<rect x="1657" y="293" width="41" height="11" fill="#ff0000"/>
<rect x="1649" y="296" width="6" height="6" fill="#ff0000"/>
<rect x="1651" y="298" width="2" height="2" fill="#fff"/>
<rect x="1657" y="327" width="41" height="11" fill="#ff0000"/>
<rect x="1649" y="330" width="6" height="6" fill="#ff0000"/>
<rect x="1651" y="332" width="2" height="2" fill="#fff"/>
<rect x="1657" y="358" width="41" height="11" fill="#ffa500"/>
<rect x="1649" y="361" width="6" height="6" fill="#ffa500"/>
<rect x="1651" y="363" width="2" height="2" fill="#fff"/>
<rect x="1657" y="408" width="41" height="11" fill="#0000ff"/>
<rect x="1657" y="440" width="41" height="11" fill="#0000ff"/>
<rect x="1649" y="443" width="6" height="6" fill="#0000ff"/>
<rect x="1651" y="445" width="2" height="2" fill="#fff"/>
<rect x="1657" y="375" width="41" height="11" fill="#000"/>
</g>
<text x="1661" y="302" font-size="10" fill="#fff" stroke="#fff" stroke-width="0.3" textLength="33" lengthAdjust="spacingAndGlyphs" >21857.5</text>
<text x="1661" y="336" font-size="10" fill="#fff" stroke="#fff" stroke-width="0.3" textLength="33" lengthAdjust="spacingAndGlyphs" >21459.6</text>
<text x="1661" y="367" font-size="10" fill="#fff" stroke="#fff" stroke-width="0.3" textLength="33" lengthAdjust="spacingAndGlyphs" >21099.8</text>
<text x="1661" y="417" font-size="10" fill="#fff" stroke="#fff" stroke-width="0.3" textLength="33" lengthAdjust="spacingAndGlyphs" >20522.5</text>
<text x="1661" y="449" font-size="10" fill="#fff" stroke="#fff" stroke-width="0.3" textLength="33" lengthAdjust="spacingAndGlyphs" >20148.2</text>
<text x="1661" y="384" font-size="10" fill="#fff" stroke="#fff" stroke-width="0.3" textLength="33" lengthAdjust="spacingAndGlyphs" >20911.5</text>
<text x="-5" y="936" font-size="10" fill="#000" stroke="#000" stroke-width="0.3" textLength="51" lengthAdjust="spacingAndGlyphs" >18 Feb 2022</text>
<text x="59" y="936" font-size="10" fill="#000" stroke="#000" stroke-width="0.3" textLength="54" lengthAdjust="spacingAndGlyphs" >24 Feb 05:00</text>
<text x="123" y="936" font-size="10" fill="#000" stroke="#000" stroke-width="0.3" textLength="49" lengthAdjust="spacingAndGlyphs" >2 Mar 05:00</text>
<text x="187" y="936" font-size="10" fill="#000" stroke="#000" stroke-width="0.3" textLength="49" lengthAdjust="spacingAndGlyphs" >8 Mar 05:00</text>
<text x="251" y="936" font-size="10" fill="#000" stroke="#000" stroke-width="0.3" textLength="54" lengthAdjust="spacingAndGlyphs" >14 Mar 05:00</text>
<text x="315" y="936" font-size="10" fill="#000" stroke="#000" stroke-width="0.3" textLength="54" lengthAdjust="spacingAndGlyphs" >18 Mar 05:00</text>
<text x="379" y="936" font-size="10" fill="#000" stroke="#000" stroke-width="0.3" textLength="54" lengthAdjust="spacingAndGlyphs" >24 Mar 05:00</text>
<text x="443" y="936" font-size="10" fill="#000" stroke="#000" stroke-width="0.3" textLength="54" lengthAdjust="spacingAndGlyphs" >30 Mar 05:00</text>
<text x="507" y="936" font-size="10" fill="#000" stroke="#000" stroke-width="0.3" textLength="48" lengthAdjust="spacingAndGlyphs" >6 Apr 05:00</text>
<text x="571" y="936" font-size="10" fill="#000" stroke="#000" stroke-width="0.3" textLength="53" lengthAdjust="spacingAndGlyphs" >12 Apr 05:00</text>
<text x="635" y="936" font-size="10" fill="#000" stroke="#000" stroke-width="0.3" textLength="53" lengthAdjust="spacingAndGlyphs" >20 Apr 05:00</text>
<text x="699" y="936" font-size="10" fill="#000" stroke="#000" stroke-width="0.3" textLength="53" lengthAdjust="spacingAndGlyphs" >26 Apr 05:00</text>
<text x="763" y="936" font-size="10" fill="#000" stroke="#000" stroke-width="0.3" textLength="51" lengthAdjust="spacingAndGlyphs" >3 May 05:00</text>
<text x="827" y="936" font-size="10" fill="#000" stroke="#000" stroke-width="0.3" textLength="56" lengthAdjust="spacingAndGlyphs" >10 May 05:00</text>
<text x="891" y="936" font-size="10" fill="#000" stroke="#000" stroke-width="0.3" textLength="56" lengthAdjust="spacingAndGlyphs" >16 May 05:00</text>
<text x="955" y="936" font-size="10" fill="#000" stroke="#000" stroke-width="0.3" textLength="56" lengthAdjust="spacingAndGlyphs" >20 May 05:00</text>
<text x="1019" y="936" font-size="10" fill="#000" stroke="#000" stroke-width="0.3" textLength="56" lengthAdjust="spacingAndGlyphs" >26 May 05:00</text>
<text x="1083" y="936" font-size="10" fill="#000" stroke="#000" stroke-width="0.3" textLength="48" lengthAdjust="spacingAndGlyphs" >1 Jun 05:00</text>
<text x="1147" y="936" font-size="10" fill="#000" stroke="#000" stroke-width="0.3" textLength="48" lengthAdjust="spacingAndGlyphs" >8 Jun 05:00</text>
<text x="1211" y="936" font-size="10" fill="#000" stroke="#000" stroke-width="0.3" textLength="53" lengthAdjust="spacingAndGlyphs" >14 Jun 05:00</text>
<text x="1275" y="936" font-size="10" fill="#000" stroke="#000" stroke-width="0.3" textLength="53" lengthAdjust="spacingAndGlyphs" >20 Jun 05:00</text>
<rect x="1701" y="19" width="1" height="919" fill="#e4e4e4"/>
<g id="toolbar">
<rect x="0" y="0" width="1702" height="17" fill="#f0f0f0"/>
<rect x="0" y="17" width="1702" height="1" fill="#f7f7f7"/>
<rect x="0" y="18" width="1701" height="1" fill="#a8a8a8"/>
<rect x="0" y="19" width="1701" height="1" fill="#6a6a6a"/>
<rect x="0" y="0" width="8" height="35" fill="#dfe9f2"/>
<rect x="0" y="0" width="6" height="33" fill="#fff"/>
<rect x="1" y="0" width="1.5" height="29" fill="#404040"/>
<rect x="0" y="27.5" width="2" height="1.5" fill="#404040"/>
<rect x="7" y="0" width="1" height="35" fill="#b8c4cf"/>
<rect x="0" y="33" width="8" height="1.2" fill="#9aa6b0"/>
<rect x="8" y="13" width="1" height="2" fill="#e8a33a"/>
<rect x="8" y="23" width="2" height="1" fill="#20b060"/>
<rect x="16" y="0" width="1" height="16" fill="#a0a0a0" shape-rendering="crispEdges"/>
<path d="M26.5,-1 h8 l3,3 v9.5 h-11 z" fill="#fbfbfb" stroke="#9a9a9a" stroke-width="1"/>
<g stroke="#a8a8a8" stroke-width="1"><line x1="28.5" y1="1.5" x2="33" y2="1.5"/><line x1="28.5" y1="4.5" x2="35" y2="4.5"/><line x1="28.5" y1="6.5" x2="33" y2="6.5"/></g>
<path d="M34,4.2 h4 v4 h4 v4 h-4 v4 h-4 v-4 h-4 v-4 h4 z" fill="#22c322" stroke="#0d8a0d" stroke-width="0.8"/>
<text x="45" y="8.9" font-size="12.5" fill="#000" stroke="#000" stroke-width="0.25" font-family="Liberation Sans, Noto Sans CJK SC, sans-serif" textLength="36" lengthAdjust="spacingAndGlyphs">新订单</text>
<path d="M93,6 L101,-2 L109,5 L102,13.5 Z" fill="#e9b62e" stroke="#a87412" stroke-width="1"/>
<path d="M95,6.5 L101,0.5 L106.5,5.2 L101.5,11 Z" fill="#f6d972"/>
<path d="M102,13.5 L109,5 L109.5,7 L103,14.5 Z" fill="#f4ead0" stroke="#a87412" stroke-width="0.6"/>
<rect x="124.5" y="-2" width="10" height="9" fill="#3f8fe0" stroke="#1d5fb4" stroke-width="1"/>
<rect x="126" y="2" width="7" height="1.2" fill="#d6ebff"/>
<path d="M123,13 a3,3 0 0 1 1,-5.6 a3.6,3.6 0 0 1 6.6,-0.8 a3,3 0 0 1 4.6,2.2 a2.3,2.3 0 0 1 0,4.2 z" fill="#eef3fa" stroke="#7d93b5" stroke-width="1"/>
<circle cx="157" cy="5.5" r="7.5" fill="none" stroke="#5a8fd8" stroke-width="1.2" opacity="0.75"/>
<circle cx="157" cy="5.5" r="4.7" fill="none" stroke="#4a7fd0" stroke-width="1.2"/>
<circle cx="157" cy="5.5" r="1.8" fill="#2f62c4"/>
<path d="M157,5.5 L157,13 A7.5,7.5 0 0 0 164.5,5.5 Z" fill="#49b94e" opacity="0.85"/>
<path d="M177,4 L191,4 L185,13.5 L181,12.5 Z" fill="#f1d23c" stroke="#b8951a" stroke-width="0.8"/>
<path d="M176,3 q1,-4.5 5,-4 q3,-2.5 6,0 q4,-0.5 5,4 q-8,3 -16,0 z" fill="#4fa0dc" stroke="#2b72b8" stroke-width="0.8"/>
<circle cx="188.4" cy="10" r="4.1" fill="#dc2a1c" stroke="#a81208" stroke-width="0.6"/>
<rect x="187.2" y="8.8" width="2.5" height="2.5" fill="#fff"/>
<text x="197.5" y="8.9" font-size="12.5" fill="#000" stroke="#000" stroke-width="0.25" font-family="Liberation Sans, Noto Sans CJK SC, sans-serif" textLength="47" lengthAdjust="spacingAndGlyphs">自动交易</text>
<rect x="252" y="0" width="1" height="18" fill="#a0a0a0" shape-rendering="crispEdges"/><rect x="253" y="0" width="1" height="18" fill="#fff" shape-rendering="crispEdges"/>
<rect x="256" y="0" width="3" height="1" fill="#a0a0a0" shape-rendering="crispEdges"/>
<rect x="256" y="2" width="3" height="1" fill="#a0a0a0" shape-rendering="crispEdges"/>
<rect x="256" y="4" width="3" height="1" fill="#a0a0a0" shape-rendering="crispEdges"/>
<rect x="256" y="6" width="3" height="1" fill="#a0a0a0" shape-rendering="crispEdges"/>
<rect x="256" y="8" width="3" height="1" fill="#a0a0a0" shape-rendering="crispEdges"/>
<rect x="256" y="10" width="3" height="1" fill="#a0a0a0" shape-rendering="crispEdges"/>
<rect x="256" y="12" width="3" height="1" fill="#a0a0a0" shape-rendering="crispEdges"/>
<rect x="256" y="14" width="3" height="1" fill="#a0a0a0" shape-rendering="crispEdges"/>
<g fill="#505050" shape-rendering="crispEdges"><rect x="270" y="0" width="1" height="14"/><rect x="268" y="11" width="13" height="1"/></g>
<polygon points="280,9.5 282.5,11.5 280,13.5" fill="#505050"/>
<rect x="269" y="1" width="3" height="1" fill="#505050" shape-rendering="crispEdges"/>
<g fill="#1d9a2d" shape-rendering="crispEdges"><rect x="276" y="1" width="1" height="8"/><rect x="276" y="2" width="3" height="1"/><rect x="274" y="8" width="3" height="1"/></g>
<rect x="290" y="0" width="1" height="16" fill="#8c8c8c" shape-rendering="crispEdges"/>
<rect x="291" y="0" width="24" height="16" fill="#f8f8f8" shape-rendering="crispEdges"/>
<g fill="#505050" shape-rendering="crispEdges"><rect x="298" y="0" width="1" height="14"/><rect x="296" y="11" width="13" height="1"/></g>
<polygon points="308,9.5 310.5,11.5 308,13.5" fill="#505050"/>
<rect x="297" y="1" width="3" height="1" fill="#505050" shape-rendering="crispEdges"/>
<rect x="304" y="0" width="1" height="10" fill="#128a20" shape-rendering="crispEdges"/><rect x="302.5" y="-1" width="4" height="8.5" fill="#3ed24a" stroke="#128a20" stroke-width="1"/>
<g fill="#505050" shape-rendering="crispEdges"><rect x="326" y="0" width="1" height="14"/><rect x="324" y="11" width="13" height="1"/></g>
<polygon points="336,9.5 338.5,11.5 336,13.5" fill="#505050"/>
<rect x="325" y="1" width="3" height="1" fill="#505050" shape-rendering="crispEdges"/>
<path d="M325,8.8 C328,7 329,3 331.5,3 C333.5,3 334.5,6.5 337,7.5" fill="none" stroke="#2a9a38" stroke-width="1.2"/>
<rect x="347" y="0" width="1" height="16" fill="#9a9a9a" shape-rendering="crispEdges"/>
<line x1="366" y1="7.7" x2="371.5" y2="12.8" stroke="#b8901c" stroke-width="3" stroke-linecap="round"/>
<line x1="366.3" y1="7.6" x2="371.3" y2="12.2" stroke="#f0d060" stroke-width="1.2" stroke-linecap="round"/>
<circle cx="362" cy="3.7" r="5.4" fill="#d4ebfa" stroke="#3c82d2" stroke-width="1.1"/>
<rect x="359" y="3" width="6" height="1.6" fill="#2a6fc8"/>
<rect x="361.2" y="0.6" width="1.6" height="6.2" fill="#2a6fc8"/>
<line x1="394" y1="7.7" x2="399.5" y2="12.8" stroke="#b8901c" stroke-width="3" stroke-linecap="round"/>
<line x1="394.3" y1="7.6" x2="399.3" y2="12.2" stroke="#f0d060" stroke-width="1.2" stroke-linecap="round"/>
<circle cx="390" cy="3.7" r="5.4" fill="#d4ebfa" stroke="#3c82d2" stroke-width="1.1"/>
<rect x="387" y="3" width="6" height="1.6" fill="#2a6fc8"/>
<rect x="412" y="-1" width="8" height="7" rx="1" fill="#4aa83a" stroke="#2e8a22" stroke-width="0.6"/>
<rect x="413.6" y="1.6" width="4.8" height="2.4" fill="none" stroke="#eaf2ff" stroke-width="0.9"/>
<rect x="420.5" y="-1" width="8" height="7" rx="1" fill="#3a78e0" stroke="#1f52c0" stroke-width="0.6"/>
<rect x="422.1" y="1.6" width="4.8" height="2.4" fill="none" stroke="#eaf2ff" stroke-width="0.9"/>
<rect x="412" y="7" width="8" height="7" rx="1" fill="#2a5ad6" stroke="#1a3fb0" stroke-width="0.6"/>
<rect x="413.6" y="9.6" width="4.8" height="2.4" fill="none" stroke="#eaf2ff" stroke-width="0.9"/>
<rect x="420.5" y="7" width="8" height="7" rx="1" fill="#4aa83a" stroke="#2e8a22" stroke-width="0.6"/>
<rect x="422.1" y="9.6" width="4.8" height="2.4" fill="none" stroke="#eaf2ff" stroke-width="0.9"/>
<rect x="437" y="0" width="1" height="16" fill="#9a9a9a" shape-rendering="crispEdges"/>
<rect x="442" y="0" width="1" height="16" fill="#8c8c8c" shape-rendering="crispEdges"/>
<rect x="443" y="0" width="24" height="16" fill="#f8f8f8" shape-rendering="crispEdges"/>
<g fill="#505050" shape-rendering="crispEdges"><rect x="450" y="0" width="1" height="14"/><rect x="448" y="11" width="13" height="1"/></g>
<polygon points="460,9.5 462.5,11.5 460,13.5" fill="#505050"/>
<rect x="449" y="1" width="3" height="1" fill="#505050" shape-rendering="crispEdges"/>
<polygon points="455.5,2.5 455.5,8.8 459.6,5.6" fill="#7be07e" stroke="#1d9a2d" stroke-width="1"/>
<rect x="470" y="0" width="1" height="16" fill="#8c8c8c" shape-rendering="crispEdges"/>
<rect x="471" y="0" width="24" height="16" fill="#f8f8f8" shape-rendering="crispEdges"/>
<g fill="#505050" shape-rendering="crispEdges"><rect x="478" y="0" width="1" height="14"/><rect x="476" y="11" width="13" height="1"/></g>
<polygon points="488,9.5 490.5,11.5 488,13.5" fill="#505050"/>
<rect x="477" y="1" width="3" height="1" fill="#505050" shape-rendering="crispEdges"/>
<rect x="484" y="0" width="1" height="10" fill="#1a6ab0" shape-rendering="crispEdges"/>
<path d="M485.5,5.5 h4.5 M487.8,3.2 L485.6,5.5 L487.8,7.8" fill="none" stroke="#d8641a" stroke-width="1.2"/>
<rect x="499" y="0" width="1" height="16" fill="#9a9a9a" shape-rendering="crispEdges"/>
<path d="M509.5,-1 h8 l3,3 v9 h-11 z" fill="#f4f4f4" stroke="#8a8a8a" stroke-width="1"/>
<path d="M512,1 v8 M512,3.5 h3" stroke="#9a9a9a" stroke-width="1" fill="none"/>
<path d="M517,4.2 h4 v4 h4 v4 h-4 v4 h-4 v-4 h-4 v-4 h4 z" fill="#22c322" stroke="#0d8a0d" stroke-width="0.8"/>
<polygon points="531,5 537,5 534,8.5" fill="#000"/>
<circle cx="554.8" cy="5.3" r="7.3" fill="#fff" stroke="#1c6fd2" stroke-width="2.2"/>
<circle cx="554.8" cy="5.3" r="8.3" fill="none" stroke="#0d4aa0" stroke-width="0.5"/>
<path d="M554.8,1.5 v4.3 h3" fill="none" stroke="#303030" stroke-width="1.1"/>
<polygon points="570,5 576,5 573,8.5" fill="#000"/>
<rect x="586.5" y="-1" width="15" height="13.2" fill="#fff" stroke="#3f76c8" stroke-width="1"/>
<rect x="586.5" y="-1" width="15" height="2.6" fill="#5a96e0"/>
<rect x="586.5" y="6.6" width="15" height="1" fill="#4a86d8"/>
<path d="M588.5,5.3 l2.5,-0.2 l2,-1.6 l2,0.6 l1.8,-1.2 l2.6,0.2" fill="none" stroke="#b02418" stroke-width="1.1"/>
<path d="M588.5,10.3 l2.8,-0.3 l2,-1.2 l1.6,0.8 l2,-1.8 l2.2,2.2" fill="none" stroke="#1f9a2a" stroke-width="1.1"/>
<polygon points="609,5 615,5 612,8.5" fill="#000"/>
<rect x="620" y="0" width="1" height="18" fill="#8c8c8c" shape-rendering="crispEdges"/><rect x="621" y="0" width="1" height="18" fill="#fff" shape-rendering="crispEdges"/>
<rect x="624" y="0" width="3" height="1" fill="#a0a0a0" shape-rendering="crispEdges"/>
<rect x="624" y="2" width="3" height="1" fill="#a0a0a0" shape-rendering="crispEdges"/>
<rect x="624" y="4" width="3" height="1" fill="#a0a0a0" shape-rendering="crispEdges"/>
<rect x="624" y="6" width="3" height="1" fill="#a0a0a0" shape-rendering="crispEdges"/>
<rect x="624" y="8" width="3" height="1" fill="#a0a0a0" shape-rendering="crispEdges"/>
<rect x="624" y="10" width="3" height="1" fill="#a0a0a0" shape-rendering="crispEdges"/>
<rect x="624" y="12" width="3" height="1" fill="#a0a0a0" shape-rendering="crispEdges"/>
<rect x="624" y="14" width="3" height="1" fill="#a0a0a0" shape-rendering="crispEdges"/>
<rect x="630" y="0" width="1" height="16" fill="#8c8c8c" shape-rendering="crispEdges"/>
<rect x="631" y="0" width="24" height="16" fill="#f8f8f8" shape-rendering="crispEdges"/>
<path d="M638.5,-3 L638.5,8.6 L641.2,6.4 L643.4,12.6 L645.4,11.8 L643.2,5.9 L646.8,5.9 Z" fill="#4a4a4a"/>
<g fill="#5a5a5a" shape-rendering="crispEdges"><rect x="670" y="0" width="1" height="14"/><rect x="663" y="6" width="6" height="1"/><rect x="672" y="6" width="6" height="1"/></g>
<rect x="687" y="0" width="1" height="16" fill="#9a9a9a" shape-rendering="crispEdges"/>
<g fill="#505050" shape-rendering="crispEdges"><rect x="704" y="0" width="1" height="13"/><rect x="727" y="6" width="12" height="1"/></g>
<line x1="754.8" y1="12.8" x2="766.8" y2="0.8" stroke="#505050" stroke-width="1.1"/>
<g stroke="#505050" stroke-width="1" fill="none"><line x1="781" y1="7.5" x2="791" y2="-1"/><line x1="783" y1="12.5" x2="795" y2="2"/><line x1="782.5" y1="9" x2="785.5" y2="11"/><line x1="785" y1="6.5" x2="788" y2="9"/><line x1="787.5" y1="4" x2="790.5" y2="6.5"/><line x1="790" y1="1.5" x2="793" y2="4"/><line x1="783.5" y1="5.5" x2="784.5" y2="11.5"/><line x1="787" y1="2.5" x2="788" y2="8"/><line x1="790.5" y1="0" x2="791.5" y2="5"/></g>
<text x="791.5" y="14.6" font-size="6.5" font-weight="bold" fill="#404040" textLength="4.6" lengthAdjust="spacingAndGlyphs">E</text>
<g stroke="#505050" stroke-width="1" stroke-dasharray="1 1" shape-rendering="crispEdges"><line x1="810" y1="2.5" x2="823" y2="2.5"/><line x1="810" y1="6.5" x2="823" y2="6.5"/><line x1="810" y1="10.5" x2="819" y2="10.5"/></g>
<text x="819.8" y="14.6" font-size="6.5" font-weight="bold" fill="#404040" textLength="4.4" lengthAdjust="spacingAndGlyphs">F</text>
<text x="840.3" y="10.6" font-size="12" fill="#606060" stroke="#606060" stroke-width="0.3" textLength="8.6" lengthAdjust="spacingAndGlyphs">A</text>
<rect x="867.5" y="0.5" width="11" height="12" fill="none" stroke="#505050" stroke-width="1" stroke-dasharray="1 1" shape-rendering="crispEdges"/>
<text x="869.3" y="10.6" font-size="11" fill="#505050" stroke="#505050" stroke-width="0.3" textLength="7.6" lengthAdjust="spacingAndGlyphs">T</text>
<polygon points="897.5,-0.5 900.5,2.5 897.5,4.5 894.5,2.5" fill="#505050"/>
<polygon points="904.5,7.5 908,9.5 904.5,12.8 901,9.5" fill="#505050"/>
<path d="M896.8,7.2 l2,2 l4.4,-5" fill="none" stroke="#505050" stroke-width="1.2"/>
<polygon points="915,5 921,5 918,8.5" fill="#000"/>
<rect x="926" y="0" width="1" height="18" fill="#8c8c8c" shape-rendering="crispEdges"/><rect x="927" y="0" width="1" height="18" fill="#fff" shape-rendering="crispEdges"/>
<rect x="930" y="0" width="3" height="1" fill="#a0a0a0" shape-rendering="crispEdges"/>
<rect x="930" y="2" width="3" height="1" fill="#a0a0a0" shape-rendering="crispEdges"/>
<rect x="930" y="4" width="3" height="1" fill="#a0a0a0" shape-rendering="crispEdges"/>
<rect x="930" y="6" width="3" height="1" fill="#a0a0a0" shape-rendering="crispEdges"/>
<rect x="930" y="8" width="3" height="1" fill="#a0a0a0" shape-rendering="crispEdges"/>
<rect x="930" y="10" width="3" height="1" fill="#a0a0a0" shape-rendering="crispEdges"/>
<rect x="930" y="12" width="3" height="1" fill="#a0a0a0" shape-rendering="crispEdges"/>
<rect x="930" y="14" width="3" height="1" fill="#a0a0a0" shape-rendering="crispEdges"/>
<rect x="1076" y="0" width="1" height="16" fill="#8c8c8c" shape-rendering="crispEdges"/>
<rect x="1077" y="0" width="24" height="16" fill="#f8f8f8" shape-rendering="crispEdges"/>
<text x="941.0" y="9.8" font-size="10" fill="#3c3c3c" textLength="13.700000000000045" lengthAdjust="spacingAndGlyphs">M1</text>
<text x="969.3" y="9.8" font-size="10" fill="#3c3c3c" textLength="13.400000000000091" lengthAdjust="spacingAndGlyphs">M5</text>
<text x="995.2" y="9.8" font-size="10" fill="#3c3c3c" textLength="18.299999999999955" lengthAdjust="spacingAndGlyphs">M15</text>
<text x="1023.2" y="9.8" font-size="10" fill="#3c3c3c" textLength="18.299999999999955" lengthAdjust="spacingAndGlyphs">M30</text>
<text x="1054.0" y="9.8" font-size="10" fill="#3c3c3c" textLength="12.5" lengthAdjust="spacingAndGlyphs">H1</text>
<text x="1081.2" y="9.8" font-size="10" fill="#3c3c3c" textLength="12.899999999999864" lengthAdjust="spacingAndGlyphs">H4</text>
<text x="1110.2" y="9.8" font-size="10" fill="#3c3c3c" textLength="12.700000000000045" lengthAdjust="spacingAndGlyphs">D1</text>
<text x="1137.5" y="9.8" font-size="10" fill="#3c3c3c" textLength="15" lengthAdjust="spacingAndGlyphs">W1</text>
<text x="1164.2" y="9.8" font-size="10" fill="#3c3c3c" textLength="15.299999999999955" lengthAdjust="spacingAndGlyphs">MN</text>
<rect x="1187" y="0" width="1" height="17" fill="#9a9a9a" shape-rendering="crispEdges"/><rect x="1188" y="0" width="1" height="17" fill="#fff" shape-rendering="crispEdges"/>
<line x1="1654.8" y1="6.3" x2="1649.8" y2="10.8" stroke="#2f62cf" stroke-width="2.2" stroke-linecap="round"/>
<circle cx="1657.6" cy="3.2" r="3.9" fill="#f4f6ff" stroke="#2f62cf" stroke-width="1.4"/>
<path d="M1674.3,8 a4.6,4.4 0 1 1 4.6,4.4 l-1.6,2 l-0.4,-2.4 a4.6,4.4 0 0 1 -2.6,-4 z" fill="#e4e4ec" stroke="#a4a4a8" stroke-width="1"/>
<circle cx="1688.6" cy="3" r="8.6" fill="#d9331c"/>
<text x="1684.8" y="7.6" font-size="13" font-weight="bold" fill="#fff" font-family="Liberation Serif, serif">1</text>
</g>
</svg>
</body></html>
